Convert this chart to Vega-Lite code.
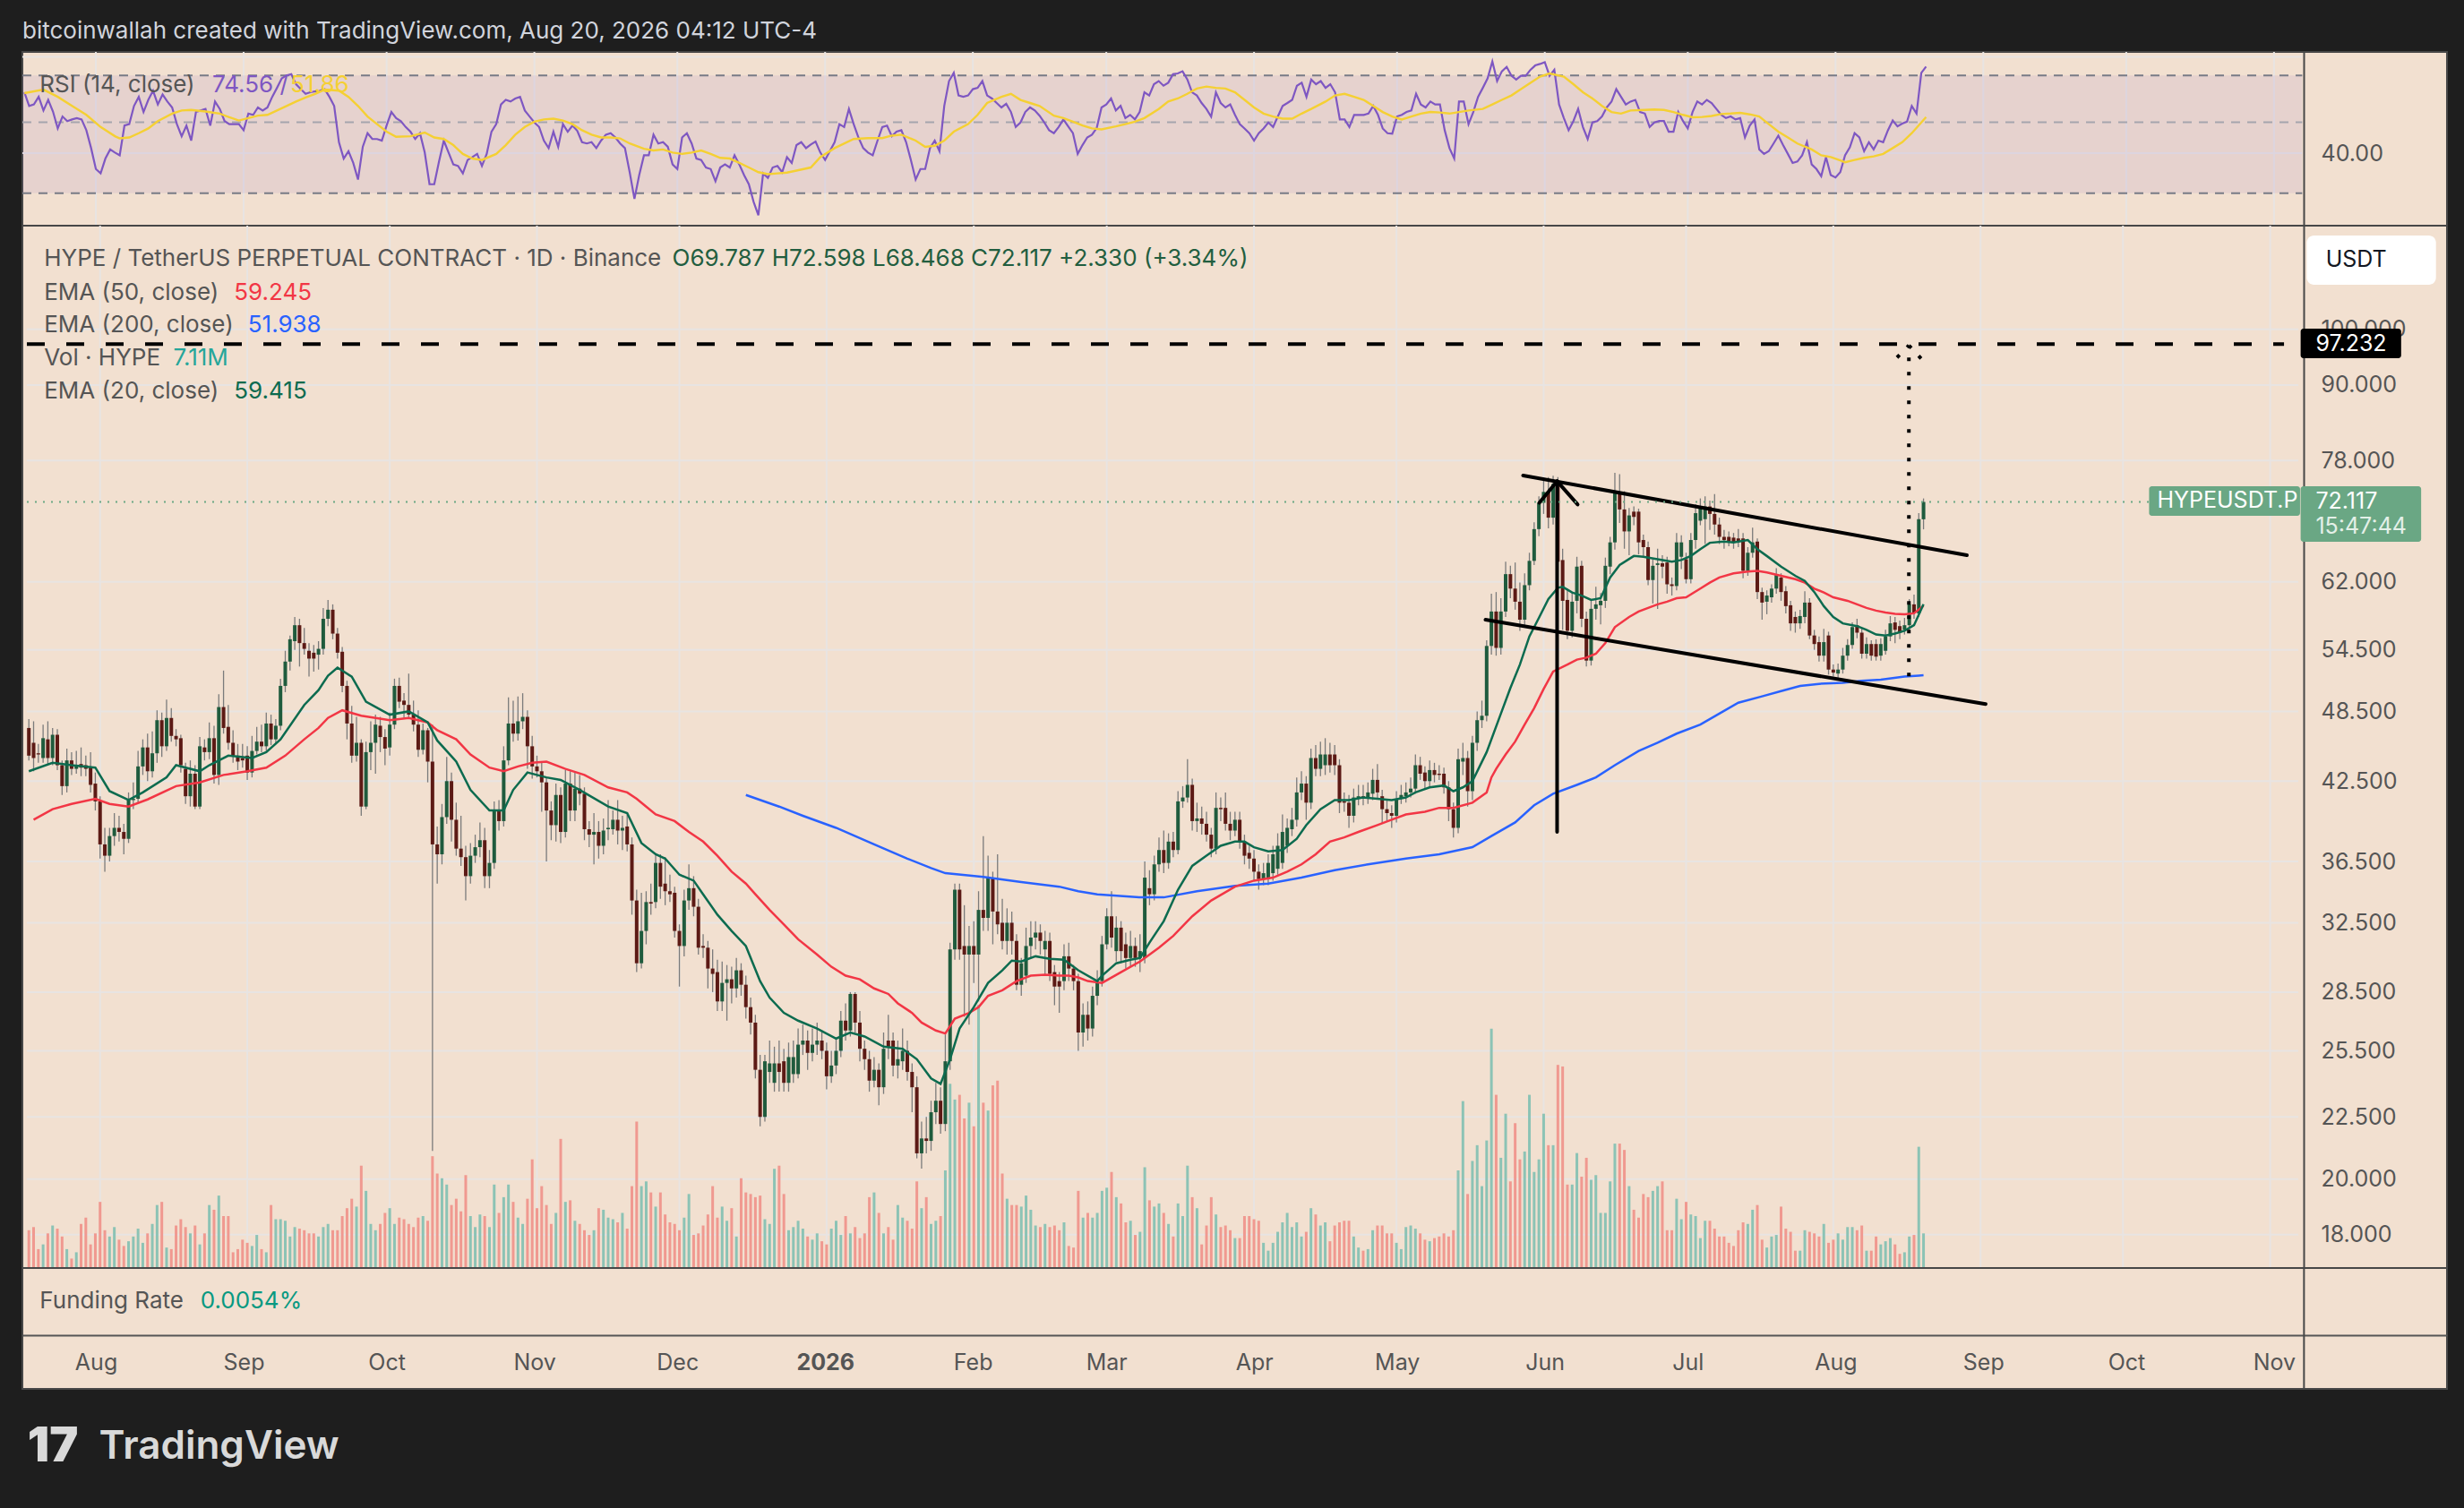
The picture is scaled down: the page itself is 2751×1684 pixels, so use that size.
{
"$schema":"https://vega.github.io/schema/vega-lite/v6.json",
"background":"#1e1e1e",
"padding":{"left":21,"top":20,"right":23,"bottom":50},
"autosize":{"type":"pad"},
"config":{"font":"Inter","view":{"stroke":"#474747","strokeWidth":2,"fill":"#f2e0d0"},"concat":{"spacing":0}},
"spacing":0,
"bounds":"flush",
"datasets":{
"months":[{"d":"2025-08-01"},{"d":"2025-09-01"},{"d":"2025-10-01"},{"d":"2025-11-01"},{"d":"2025-12-01"},{"d":"2026-01-01"},{"d":"2026-02-01"},{"d":"2026-03-01"},{"d":"2026-04-01"},{"d":"2026-05-01"},{"d":"2026-06-01"},{"d":"2026-07-01"},{"d":"2026-08-01"},{"d":"2026-09-01"},{"d":"2026-10-01"},{"d":"2026-11-01"}],
"levels":[{"g":18},{"g":20},{"g":22.5},{"g":25.5},{"g":28.5},{"g":32.5},{"g":36.5},{"g":42.5},{"g":48.5},{"g":54.5},{"g":62},{"g":78},{"g":90},{"g":100}],
"k":[
{"d":"2025-07-17","o":47.0,"h":47.8,"l":44.2,"c":44.6,"v":24,"r":62.0,"m":61.6,"e20":43.3},
{"d":"2025-07-18","o":45.7,"h":47.6,"l":43.3,"c":44.4,"v":26,"r":56.2,"e50":39.5},
{"d":"2025-07-19","o":44.8,"h":45.6,"l":44.0,"c":44.7,"v":12,"r":56.8},
{"d":"2025-07-20","o":44.4,"h":47.3,"l":44.0,"c":46.1,"v":15,"r":60.0},
{"d":"2025-07-21","o":46.0,"h":47.6,"l":43.9,"c":44.4,"v":22,"r":54.4,"m":63.2},
{"d":"2025-07-22","o":44.4,"h":47.0,"l":43.8,"c":46.4,"v":27,"r":58.7,"e20":44.0,"e50":40.3},
{"d":"2025-07-23","o":46.4,"h":46.9,"l":43.4,"c":43.8,"v":25,"r":54.0},
{"d":"2025-07-24","o":43.8,"h":44.2,"l":41.4,"c":42.1,"v":20,"r":47.8,"m":60.0},
{"d":"2025-07-25","o":42.1,"h":45.2,"l":41.6,"c":44.2,"v":12,"r":52.1},
{"d":"2025-07-26","o":44.2,"h":44.9,"l":43.0,"c":43.5,"v":6,"r":50.4,"e20":43.8,"e50":40.7},
{"d":"2025-07-27","o":43.5,"h":45.0,"l":43.1,"c":43.8,"v":10,"r":51.0,"m":56.2},
{"d":"2025-07-28","o":43.9,"h":45.3,"l":42.9,"c":43.6,"v":28,"r":51.5},
{"d":"2025-07-29","o":43.8,"h":44.6,"l":42.9,"c":43.5,"v":32,"r":51.0},
{"d":"2025-07-30","o":43.6,"h":44.9,"l":41.6,"c":42.2,"v":15,"r":47.2,"m":52.7},
{"d":"2025-07-31","o":42.3,"h":43.2,"l":40.2,"c":40.9,"v":22,"r":41.5,"e20":43.6,"e50":41.1},
{"d":"2025-08-01","o":40.9,"h":41.3,"l":36.7,"c":37.7,"v":42,"r":35.7},
{"d":"2025-08-02","o":37.7,"h":38.9,"l":35.8,"c":36.9,"v":24,"r":34.6,"m":48.3},
{"d":"2025-08-03","o":36.9,"h":38.9,"l":36.5,"c":38.3,"v":20,"r":38.5,"e20":41.7,"e50":40.7},
{"d":"2025-08-04","o":38.3,"h":40.0,"l":37.6,"c":38.9,"v":26,"r":41.1},
{"d":"2025-08-05","o":38.9,"h":39.8,"l":37.9,"c":38.6,"v":18,"r":40.2,"m":45.2},
{"d":"2025-08-06","o":38.6,"h":39.2,"l":37.0,"c":38.1,"v":14,"r":39.4,"m":44.5},
{"d":"2025-08-07","o":38.1,"h":41.6,"l":37.8,"c":41.0,"v":17,"r":48.8,"e20":41.0,"e50":40.5},
{"d":"2025-08-08","o":41.0,"h":42.4,"l":40.3,"c":41.1,"v":20,"r":49.3,"m":44.8},
{"d":"2025-08-09","o":41.1,"h":45.0,"l":40.8,"c":43.7,"v":25,"r":56.2},
{"d":"2025-08-10","o":43.7,"h":46.0,"l":43.0,"c":45.3,"v":16,"r":60.0,"m":46.2,"e20":41.6},
{"d":"2025-08-11","o":45.3,"h":46.5,"l":42.5,"c":43.3,"v":22,"r":53.8,"e50":41.05},
{"d":"2025-08-12","o":43.3,"h":46.7,"l":42.8,"c":44.8,"v":28,"r":58.7,"m":47.8},
{"d":"2025-08-13","o":44.8,"h":48.6,"l":44.0,"c":47.7,"v":40,"r":62.7},
{"d":"2025-08-14","o":47.7,"h":48.4,"l":44.5,"c":45.4,"v":42,"r":56.8,"m":50.4},
{"d":"2025-08-15","o":45.4,"h":49.6,"l":45.0,"c":47.9,"v":13,"r":61.0,"e20":42.8},
{"d":"2025-08-16","o":47.9,"h":48.8,"l":45.8,"c":46.3,"v":12,"r":58.0},
{"d":"2025-08-17","o":46.3,"h":46.9,"l":45.4,"c":46.0,"v":27,"r":55.6,"m":53.2,"e20":43.8,"e50":42.1},
{"d":"2025-08-18","o":46.1,"h":46.4,"l":43.2,"c":43.8,"v":31,"r":49.3},
{"d":"2025-08-19","o":43.5,"h":44.0,"l":40.7,"c":41.3,"v":26,"r":45.2,"m":54.4},
{"d":"2025-08-20","o":41.3,"h":44.2,"l":40.5,"c":43.1,"v":22,"r":48.8},
{"d":"2025-08-21","o":43.1,"h":43.8,"l":40.3,"c":40.5,"v":27,"r":43.8,"m":54.6},
{"d":"2025-08-22","o":40.5,"h":46.2,"l":40.3,"c":45.4,"v":15,"r":53.8,"e20":43.3,"e50":42.4},
{"d":"2025-08-23","o":45.3,"h":46.0,"l":44.2,"c":44.9,"v":22,"r":54.4},
{"d":"2025-08-24","o":44.9,"h":47.5,"l":44.3,"c":46.1,"v":40,"r":55.0,"m":54.0,"e20":43.8},
{"d":"2025-08-25","o":46.1,"h":47.2,"l":42.3,"c":43.0,"v":37,"r":48.8},
{"d":"2025-08-26","o":43.0,"h":50.1,"l":42.2,"c":48.9,"v":46,"r":58.0},
{"d":"2025-08-27","o":48.9,"h":52.4,"l":46.5,"c":47.0,"v":33,"r":55.0,"m":53.2,"e50":43.0},
{"d":"2025-08-28","o":47.1,"h":49.1,"l":45.1,"c":45.7,"v":33,"r":50.4,"e20":44.6},
{"d":"2025-08-29","o":45.7,"h":46.8,"l":44.0,"c":44.6,"v":10,"r":49.3,"m":51.8},
{"d":"2025-08-30","o":44.6,"h":45.6,"l":43.4,"c":44.1,"v":12,"r":49.3},
{"d":"2025-08-31","o":44.4,"h":45.6,"l":43.6,"c":44.2,"v":18,"r":49.3,"m":50.6},
{"d":"2025-09-01","o":44.6,"h":45.4,"l":42.6,"c":43.2,"v":16,"r":47.2,"e50":43.3},
{"d":"2025-09-02","o":43.2,"h":46.3,"l":42.8,"c":45.0,"v":14,"r":53.2,"m":51.5,"e20":44.4},
{"d":"2025-09-03","o":45.0,"h":47.1,"l":44.7,"c":45.8,"v":21,"r":52.7},
{"d":"2025-09-04","o":45.8,"h":47.3,"l":44.9,"c":45.4,"v":12,"r":55.6,"m":52.4},
{"d":"2025-09-05","o":45.4,"h":48.4,"l":45.0,"c":47.4,"v":10,"r":54.4,"e20":44.9,"e50":43.6},
{"d":"2025-09-06","o":47.4,"h":48.2,"l":45.5,"c":46.0,"v":40,"r":55.6,"m":52.7},
{"d":"2025-09-07","o":46.0,"h":47.8,"l":45.6,"c":47.2,"v":31,"r":60.0},
{"d":"2025-09-08","o":47.2,"h":51.6,"l":46.8,"c":50.9,"v":31,"r":64.0,"m":54.4,"e20":46.0},
{"d":"2025-09-09","o":50.9,"h":54.4,"l":50.3,"c":53.3,"v":30,"r":68.5,"e50":44.6},
{"d":"2025-09-10","o":53.3,"h":56.0,"l":52.4,"c":55.6,"v":20,"r":70.0,"m":56.2},
{"d":"2025-09-11","o":55.4,"h":58.0,"l":54.5,"c":57.1,"v":26,"r":70.6},
{"d":"2025-09-12","o":57.1,"h":57.8,"l":52.8,"c":55.2,"v":25,"r":65.7,"m":58.0},
{"d":"2025-09-13","o":55.2,"h":56.8,"l":54.0,"c":54.6,"v":24,"r":63.4,"e20":49.1,"e50":46.0},
{"d":"2025-09-14","o":54.4,"h":55.2,"l":51.8,"c":53.6,"v":22,"r":61.3,"m":59.7},
{"d":"2025-09-15","o":54.2,"h":55.0,"l":52.3,"c":53.6,"v":22,"r":62.0},
{"d":"2025-09-16","o":54.0,"h":55.4,"l":52.5,"c":54.6,"v":20,"r":62.4,"m":61.3,"e20":50.5,"e50":47.0},
{"d":"2025-09-17","o":54.6,"h":59.0,"l":54.0,"c":57.8,"v":26,"r":62.7},
{"d":"2025-09-18","o":57.8,"h":59.9,"l":57.0,"c":58.8,"v":28,"r":63.4,"m":63.2,"e20":51.9,"e50":47.9},
{"d":"2025-09-19","o":58.8,"h":59.4,"l":55.6,"c":56.2,"v":24,"r":60.0},
{"d":"2025-09-20","o":56.2,"h":56.8,"l":53.6,"c":54.2,"v":24,"r":56.2,"e20":52.7},
{"d":"2025-09-21","o":54.3,"h":54.8,"l":50.3,"c":50.9,"v":33,"r":43.3,"m":62.7,"e50":48.6},
{"d":"2025-09-22","o":50.9,"h":51.4,"l":46.0,"c":47.4,"v":38,"r":38.5},
{"d":"2025-09-23","o":47.4,"h":49.0,"l":44.0,"c":44.6,"v":44,"r":40.6,"m":60.0,"e20":51.8},
{"d":"2025-09-24","o":44.6,"h":48.0,"l":44.1,"c":45.7,"v":39,"r":37.3},
{"d":"2025-09-25","o":45.7,"h":46.0,"l":39.8,"c":40.5,"v":65,"r":33.1,"m":56.2,"e50":48.1},
{"d":"2025-09-26","o":40.5,"h":45.8,"l":40.3,"c":44.9,"v":49,"r":41.9,"e20":49.4},
{"d":"2025-09-27","o":44.9,"h":47.6,"l":43.4,"c":45.7,"v":28,"r":46.2,"m":52.1},
{"d":"2025-09-28","o":45.7,"h":48.2,"l":43.1,"c":47.3,"v":24,"r":44.3},
{"d":"2025-09-29","o":47.2,"h":48.0,"l":44.9,"c":46.2,"v":28,"r":44.3,"m":49.3},
{"d":"2025-09-30","o":46.2,"h":46.9,"l":43.8,"c":45.2,"v":35,"r":43.8},
{"d":"2025-10-01","o":45.3,"h":48.4,"l":44.6,"c":47.3,"v":38,"r":48.8,"m":46.7,"e20":48.2,"e50":47.7},
{"d":"2025-10-02","o":47.3,"h":51.6,"l":46.9,"c":50.9,"v":28,"r":53.8},
{"d":"2025-10-03","o":50.9,"h":51.7,"l":48.8,"c":49.4,"v":32,"r":51.5,"m":45.0},
{"d":"2025-10-04","o":49.5,"h":50.2,"l":47.9,"c":49.1,"v":31,"r":50.4},
{"d":"2025-10-05","o":49.1,"h":52.1,"l":47.9,"c":48.2,"v":28,"r":48.3,"e20":48.5,"e50":47.9},
{"d":"2025-10-06","o":48.2,"h":49.5,"l":46.7,"c":47.3,"v":26,"r":46.7,"m":45.2},
{"d":"2025-10-07","o":47.3,"h":48.6,"l":44.5,"c":45.1,"v":32,"r":44.3},
{"d":"2025-10-08","o":45.1,"h":47.4,"l":44.7,"c":46.8,"v":33,"r":46.2},
{"d":"2025-10-09","o":46.8,"h":47.0,"l":42.4,"c":44.1,"v":30,"r":40.2,"m":46.4,"e20":47.5,"e50":47.5},
{"d":"2025-10-10","o":44.1,"h":47.3,"l":21.1,"c":37.7,"v":71,"r":32.0},
{"d":"2025-10-11","o":37.7,"h":39.0,"l":35.0,"c":37.0,"v":60,"r":32.0,"m":44.8,"e20":45.9,"e50":46.8},
{"d":"2025-10-12","o":37.0,"h":40.7,"l":36.3,"c":39.7,"v":57,"r":37.7},
{"d":"2025-10-13","o":39.7,"h":44.5,"l":39.2,"c":42.5,"v":53,"r":43.8,"m":44.3},
{"d":"2025-10-14","o":42.5,"h":43.2,"l":37.9,"c":39.5,"v":40,"r":40.2},
{"d":"2025-10-15","o":39.5,"h":40.8,"l":36.9,"c":37.4,"v":44,"r":36.9,"m":42.4,"e20":44.1,"e50":46.0},
{"d":"2025-10-16","o":37.4,"h":39.8,"l":36.2,"c":36.8,"v":36,"r":36.5},
{"d":"2025-10-17","o":36.8,"h":37.6,"l":33.9,"c":35.5,"v":59,"r":34.6,"m":39.8},
{"d":"2025-10-18","o":35.5,"h":37.8,"l":35.0,"c":36.9,"v":33,"r":38.1,"e20":41.8,"e50":44.7},
{"d":"2025-10-19","o":36.9,"h":38.4,"l":36.4,"c":37.5,"v":26,"r":38.9,"m":38.5},
{"d":"2025-10-20","o":37.5,"h":39.3,"l":36.8,"c":38.0,"v":34,"r":39.8},
{"d":"2025-10-21","o":38.0,"h":38.9,"l":34.7,"c":35.5,"v":33,"r":36.5,"m":38.1},
{"d":"2025-10-22","o":35.5,"h":37.3,"l":34.7,"c":36.4,"v":26,"r":39.8,"e20":40.2,"e50":43.6},
{"d":"2025-10-23","o":36.4,"h":40.9,"l":36.0,"c":40.2,"v":53,"r":46.7},
{"d":"2025-10-24","o":40.2,"h":41.0,"l":38.7,"c":39.4,"v":35,"r":49.3,"m":39.8},
{"d":"2025-10-25","o":39.4,"h":45.4,"l":39.0,"c":44.2,"v":45,"r":56.8,"e20":40.2,"e50":43.3},
{"d":"2025-10-26","o":44.2,"h":49.8,"l":43.8,"c":47.4,"v":53,"r":58.7,"m":42.4},
{"d":"2025-10-27","o":47.4,"h":49.5,"l":45.8,"c":46.5,"v":42,"r":58.0,"e20":41.8},
{"d":"2025-10-28","o":46.5,"h":49.9,"l":45.9,"c":47.6,"v":32,"r":59.3,"m":45.7,"e50":43.7},
{"d":"2025-10-29","o":47.6,"h":50.2,"l":46.9,"c":48.0,"v":28,"r":60.0},
{"d":"2025-10-30","o":48.0,"h":48.6,"l":43.5,"c":45.4,"v":44,"r":54.4,"m":48.3,"e20":43.2},
{"d":"2025-10-31","o":45.4,"h":46.3,"l":42.7,"c":43.7,"v":69,"r":52.1,"e50":44.0},
{"d":"2025-11-01","o":43.7,"h":44.6,"l":42.8,"c":43.3,"v":38,"r":49.9,"m":50.2},
{"d":"2025-11-02","o":43.3,"h":44.1,"l":40.1,"c":42.4,"v":52,"r":48.3},
{"d":"2025-11-03","o":42.4,"h":42.8,"l":36.5,"c":40.2,"v":40,"r":43.8,"m":51.0,"e20":42.8,"e50":44.1},
{"d":"2025-11-04","o":40.2,"h":40.9,"l":38.0,"c":39.1,"v":28,"r":41.5},
{"d":"2025-11-05","o":39.1,"h":42.3,"l":37.9,"c":41.4,"v":35,"r":46.7,"m":51.3},
{"d":"2025-11-06","o":41.4,"h":42.0,"l":37.8,"c":38.6,"v":82,"r":41.9,"e20":42.6},
{"d":"2025-11-07","o":38.6,"h":43.4,"l":38.2,"c":42.3,"v":42,"r":49.3,"m":50.6,"e50":43.5},
{"d":"2025-11-08","o":42.3,"h":43.3,"l":39.4,"c":40.2,"v":43,"r":46.7},
{"d":"2025-11-09","o":40.2,"h":43.2,"l":39.4,"c":41.9,"v":30,"r":48.8,"m":49.3},
{"d":"2025-11-10","o":41.9,"h":43.0,"l":40.6,"c":41.5,"v":28,"r":47.0,"e20":41.8},
{"d":"2025-11-11","o":41.5,"h":42.0,"l":38.0,"c":38.8,"v":24,"r":43.3,"m":47.2,"e50":43.0},
{"d":"2025-11-12","o":38.8,"h":39.4,"l":37.5,"c":38.4,"v":21,"r":42.9},
{"d":"2025-11-13","o":38.4,"h":40.0,"l":36.3,"c":38.6,"v":24,"r":43.3,"m":45.7},
{"d":"2025-11-14","o":38.6,"h":39.4,"l":36.7,"c":37.6,"v":38,"r":41.5},
{"d":"2025-11-15","o":37.6,"h":39.6,"l":37.0,"c":38.7,"v":37,"r":43.8,"m":44.8},
{"d":"2025-11-16","o":38.8,"h":41.0,"l":38.0,"c":38.9,"v":32,"r":45.7,"e20":40.5,"e50":42.0},
{"d":"2025-11-17","o":38.8,"h":40.2,"l":38.4,"c":39.5,"v":31,"r":46.2,"m":44.8},
{"d":"2025-11-18","o":39.5,"h":41.0,"l":37.7,"c":38.7,"v":29,"r":44.8},
{"d":"2025-11-19","o":38.7,"h":39.8,"l":37.3,"c":38.9,"v":35,"r":42.9,"m":44.5},
{"d":"2025-11-20","o":39.0,"h":39.9,"l":37.2,"c":37.7,"v":25,"r":41.5,"e20":40.0,"e50":41.6},
{"d":"2025-11-21","o":37.7,"h":38.2,"l":33.0,"c":33.9,"v":52,"r":34.9,"m":42.9},
{"d":"2025-11-22","o":33.9,"h":34.6,"l":29.6,"c":30.1,"v":93,"r":28.8,"e50":41.1},
{"d":"2025-11-23","o":30.1,"h":34.4,"l":29.8,"c":32.0,"v":52,"r":34.2,"e20":37.8},
{"d":"2025-11-24","o":32.0,"h":34.5,"l":31.2,"c":33.8,"v":55,"r":39.4,"m":41.3,"e50":40.5},
{"d":"2025-11-25","o":33.8,"h":35.0,"l":33.0,"c":33.7,"v":48,"r":39.4},
{"d":"2025-11-26","o":33.8,"h":37.0,"l":33.4,"c":36.4,"v":39,"r":45.7,"m":40.8,"e20":37.0,"e50":39.9},
{"d":"2025-11-27","o":36.4,"h":37.0,"l":34.0,"c":34.8,"v":48,"r":42.9},
{"d":"2025-11-28","o":35.0,"h":36.8,"l":33.6,"c":34.5,"v":34,"r":43.3,"m":41.1,"e20":36.7},
{"d":"2025-11-29","o":34.5,"h":35.6,"l":33.8,"c":34.3,"v":29,"r":41.9},
{"d":"2025-11-30","o":34.4,"h":34.8,"l":31.6,"c":32.0,"v":28,"r":36.9,"m":40.2,"e50":39.4},
{"d":"2025-12-01","o":32.0,"h":32.4,"l":28.8,"c":31.1,"v":24,"r":35.7,"e20":35.6},
{"d":"2025-12-02","o":31.1,"h":34.6,"l":30.5,"c":33.9,"v":32,"r":44.8,"m":39.8},
{"d":"2025-12-03","o":33.9,"h":36.3,"l":33.3,"c":34.7,"v":47,"r":46.2,"e50":38.6},
{"d":"2025-12-04","o":34.7,"h":35.5,"l":32.9,"c":33.5,"v":21,"r":42.9,"m":40.2,"e20":35.2},
{"d":"2025-12-05","o":33.5,"h":34.0,"l":30.6,"c":31.0,"v":22,"r":38.5},
{"d":"2025-12-06","o":31.1,"h":31.8,"l":30.4,"c":31.0,"v":27,"r":38.1,"m":40.8,"e20":34.3,"e50":37.9},
{"d":"2025-12-07","o":31.0,"h":31.4,"l":28.7,"c":29.8,"v":34,"r":36.1},
{"d":"2025-12-08","o":29.8,"h":30.9,"l":28.5,"c":29.5,"v":52,"r":35.7,"m":39.8},
{"d":"2025-12-09","o":29.6,"h":30.3,"l":27.5,"c":28.0,"v":32,"r":32.7,"e20":33.0,"e50":36.9},
{"d":"2025-12-10","o":28.0,"h":30.2,"l":27.5,"c":29.0,"v":39,"r":36.1,"m":38.7},
{"d":"2025-12-11","o":29.0,"h":30.0,"l":27.0,"c":29.2,"v":30,"r":36.9},
{"d":"2025-12-12","o":29.2,"h":29.9,"l":27.9,"c":28.7,"v":38,"r":36.1,"m":38.5,"e20":32.0,"e50":35.8},
{"d":"2025-12-13","o":28.7,"h":30.4,"l":28.2,"c":29.7,"v":20,"r":39.4},
{"d":"2025-12-14","o":29.7,"h":30.1,"l":28.3,"c":28.9,"v":57,"r":36.9,"m":37.3},
{"d":"2025-12-15","o":28.9,"h":29.4,"l":27.1,"c":27.7,"v":48,"r":34.2,"e20":31.1,"e50":35.0,"e200":41.4},
{"d":"2025-12-16","o":27.7,"h":28.2,"l":26.3,"c":26.9,"v":47,"r":32.0,"m":36.1},
{"d":"2025-12-17","o":26.9,"h":27.3,"l":24.2,"c":24.6,"v":45,"r":28.2,"e50":34.3},
{"d":"2025-12-18","o":24.6,"h":25.3,"l":22.1,"c":22.5,"v":46,"r":25.6,"m":34.9,"e20":29.1},
{"d":"2025-12-19","o":22.5,"h":25.3,"l":22.3,"c":25.0,"v":31,"r":34.6},
{"d":"2025-12-20","o":24.5,"h":26.0,"l":24.0,"c":24.9,"v":28,"r":33.5,"m":34.4,"e20":28.2,"e50":33.3},
{"d":"2025-12-21","o":24.0,"h":25.7,"l":23.6,"c":24.9,"v":63,"r":36.1},
{"d":"2025-12-22","o":24.9,"h":26.0,"l":23.6,"c":24.5,"v":65,"r":36.5,"m":34.6,"e200":40.5},
{"d":"2025-12-23","o":25.0,"h":25.6,"l":23.6,"c":24.0,"v":47,"r":34.9,"e20":27.4,"e50":32.4},
{"d":"2025-12-24","o":24.0,"h":25.9,"l":23.6,"c":25.2,"v":24,"r":38.9,"m":34.8},
{"d":"2025-12-25","o":24.4,"h":26.0,"l":24.0,"c":25.2,"v":26,"r":37.3},
{"d":"2025-12-26","o":24.4,"h":26.6,"l":24.2,"c":25.8,"v":30,"r":42.4,"m":35.3,"e20":27.0,"e50":31.5},
{"d":"2025-12-27","o":25.8,"h":26.8,"l":25.3,"c":26.0,"v":25,"r":43.3,"e200":39.8},
{"d":"2025-12-28","o":26.0,"h":26.5,"l":24.6,"c":25.4,"v":20,"r":41.5},
{"d":"2025-12-29","o":25.4,"h":26.6,"l":25.0,"c":25.8,"v":18,"r":42.6,"m":36.1},
{"d":"2025-12-30","o":25.8,"h":26.9,"l":25.3,"c":26.0,"v":22,"r":43.5,"e20":26.6,"e50":30.6},
{"d":"2025-12-31","o":26.0,"h":26.5,"l":25.1,"c":25.5,"v":17,"r":40.2,"m":38.9},
{"d":"2026-01-01","o":25.5,"h":25.9,"l":23.7,"c":24.3,"v":15,"r":38.1},
{"d":"2026-01-02","o":24.3,"h":25.5,"l":24.0,"c":24.8,"v":25,"r":40.6,"e50":29.9},
{"d":"2026-01-03","o":24.8,"h":26.1,"l":24.4,"c":25.5,"v":30,"r":43.3,"m":41.5,"e20":26.1,"e200":38.9},
{"d":"2026-01-04","o":25.5,"h":27.5,"l":25.2,"c":27.0,"v":21,"r":49.3},
{"d":"2026-01-05","o":27.0,"h":27.9,"l":26.0,"c":26.5,"v":33,"r":48.3,"e50":29.4},
{"d":"2026-01-06","o":26.5,"h":28.5,"l":26.2,"c":28.4,"v":22,"r":55.0,"e20":26.4},
{"d":"2026-01-07","o":28.4,"h":28.5,"l":26.4,"c":26.9,"v":26,"r":49.3,"m":44.3},
{"d":"2026-01-08","o":26.9,"h":27.5,"l":25.0,"c":25.6,"v":19,"r":44.8,"e50":29.2},
{"d":"2026-01-09","o":25.6,"h":26.0,"l":24.6,"c":25.1,"v":22,"r":41.5,"e20":26.2},
{"d":"2026-01-10","o":25.1,"h":25.5,"l":23.6,"c":24.1,"v":45,"r":40.2,"m":44.6},
{"d":"2026-01-11","o":24.1,"h":25.2,"l":23.8,"c":24.6,"v":48,"r":39.4,"e50":28.7,"e200":37.7},
{"d":"2026-01-12","o":24.6,"h":24.9,"l":23.0,"c":23.8,"v":35,"r":43.8},
{"d":"2026-01-13","o":23.8,"h":26.4,"l":23.5,"c":25.6,"v":22,"r":48.3,"m":44.6,"e20":25.7},
{"d":"2026-01-14","o":26.0,"h":27.3,"l":25.1,"c":25.7,"v":26,"r":48.8,"e50":28.4},
{"d":"2026-01-15","o":26.0,"h":26.4,"l":24.3,"c":24.8,"v":18,"r":45.2,"m":45.4},
{"d":"2026-01-16","o":24.8,"h":26.0,"l":24.2,"c":25.1,"v":40,"r":46.7,"e50":27.9},
{"d":"2026-01-17","o":25.0,"h":26.6,"l":24.6,"c":25.5,"v":32,"r":47.2,"m":45.7,"e20":25.6},
{"d":"2026-01-18","o":25.5,"h":26.0,"l":24.1,"c":24.5,"v":30,"r":43.3,"e200":36.7},
{"d":"2026-01-19","o":24.5,"h":24.9,"l":22.7,"c":23.8,"v":25,"r":38.1,"e50":27.4},
{"d":"2026-01-20","o":23.8,"h":24.3,"l":20.8,"c":21.0,"v":55,"r":33.1,"m":43.8,"e20":25.1},
{"d":"2026-01-21","o":21.0,"h":22.3,"l":20.4,"c":21.6,"v":38,"r":35.7,"e50":26.9},
{"d":"2026-01-22","o":21.6,"h":22.5,"l":21.0,"c":21.5,"v":45,"r":35.7,"m":41.9},
{"d":"2026-01-23","o":21.5,"h":23.2,"l":21.1,"c":22.7,"v":28,"r":41.5,"e20":24.2,"e200":36.05},
{"d":"2026-01-24","o":22.7,"h":24.0,"l":22.2,"c":23.2,"v":30,"r":43.8,"m":42.2,"e50":26.5},
{"d":"2026-01-25","o":23.2,"h":23.8,"l":21.8,"c":22.2,"v":33,"r":40.6,"e20":23.95},
{"d":"2026-01-26","o":22.2,"h":26.3,"l":21.9,"c":25.0,"v":62,"r":56.2,"m":43.8,"e50":26.35,"e200":35.7},
{"d":"2026-01-27","o":25.0,"h":31.3,"l":24.6,"c":30.9,"v":117,"r":67.2,"e20":25.1},
{"d":"2026-01-28","o":30.9,"h":35.0,"l":30.3,"c":34.6,"v":107,"r":71.3,"m":46.7,"e50":27.1},
{"d":"2026-01-29","o":34.6,"h":35.0,"l":30.3,"c":30.9,"v":110,"r":60.6,"e20":26.6},
{"d":"2026-01-30","o":31.1,"h":33.6,"l":27.2,"c":30.6,"v":95,"r":60.0},
{"d":"2026-01-31","o":30.6,"h":32.3,"l":26.8,"c":31.1,"v":105,"r":60.6,"m":49.3,"e50":27.4},
{"d":"2026-02-01","o":31.1,"h":32.6,"l":29.0,"c":30.6,"v":90,"r":63.4,"e20":27.7},
{"d":"2026-02-02","o":30.6,"h":34.5,"l":28.0,"c":33.3,"v":167,"r":64.0,"m":52.7,"e50":27.7},
{"d":"2026-02-03","o":33.3,"h":38.3,"l":32.0,"c":32.8,"v":105,"r":67.2,"e200":35.45},
{"d":"2026-02-04","o":32.8,"h":36.9,"l":32.0,"c":35.4,"v":100,"r":60.6,"m":57.4,"e20":29.0,"e50":28.3},
{"d":"2026-02-05","o":35.4,"h":35.8,"l":31.2,"c":33.2,"v":116,"r":59.3},
{"d":"2026-02-06","o":33.2,"h":37.0,"l":31.8,"c":32.4,"v":119,"r":57.4},
{"d":"2026-02-07","o":32.5,"h":34.0,"l":30.9,"c":31.4,"v":60,"r":55.6,"m":60.0,"e20":29.7,"e50":28.6},
{"d":"2026-02-08","o":31.4,"h":33.4,"l":30.6,"c":32.5,"v":44,"r":57.1},
{"d":"2026-02-09","o":32.5,"h":33.2,"l":30.6,"c":31.4,"v":40,"r":53.8,"m":61.3,"e20":30.25},
{"d":"2026-02-10","o":31.4,"h":31.8,"l":28.6,"c":28.9,"v":40,"r":48.3,"e50":29.1},
{"d":"2026-02-11","o":28.9,"h":30.4,"l":28.3,"c":30.1,"v":39,"r":49.9,"m":58.7,"e20":30.2,"e200":35.1},
{"d":"2026-02-12","o":29.4,"h":32.2,"l":29.0,"c":31.1,"v":46,"r":53.8},
{"d":"2026-02-13","o":31.1,"h":32.6,"l":30.4,"c":31.6,"v":37,"r":55.6,"m":57.4,"e50":29.4},
{"d":"2026-02-14","o":31.6,"h":32.6,"l":30.9,"c":31.9,"v":27,"r":54.4,"e20":30.5},
{"d":"2026-02-15","o":31.9,"h":32.4,"l":30.6,"c":31.4,"v":26,"r":52.4,"m":56.2},
{"d":"2026-02-16","o":30.9,"h":32.0,"l":29.4,"c":31.4,"v":28,"r":49.9,"e50":29.45},
{"d":"2026-02-17","o":31.4,"h":31.9,"l":29.1,"c":29.5,"v":26,"r":47.2,"e20":30.35},
{"d":"2026-02-18","o":29.6,"h":30.0,"l":27.8,"c":28.8,"v":27,"r":46.2,"m":52.4},
{"d":"2026-02-19","o":29.1,"h":29.6,"l":27.4,"c":28.8,"v":24,"r":48.3,"e50":29.4,"e200":34.8},
{"d":"2026-02-20","o":29.1,"h":31.2,"l":28.6,"c":30.5,"v":29,"r":51.0,"m":51.5,"e20":30.3},
{"d":"2026-02-21","o":30.5,"h":31.3,"l":29.1,"c":29.8,"v":14,"r":48.5,"e50":29.4},
{"d":"2026-02-22","o":29.8,"h":30.0,"l":28.6,"c":29.1,"v":13,"r":46.2,"m":50.2},
{"d":"2026-02-23","o":29.1,"h":29.5,"l":25.5,"c":26.4,"v":49,"r":39.8,"e20":29.7,"e50":29.3,"e200":34.5},
{"d":"2026-02-24","o":26.4,"h":27.9,"l":25.7,"c":27.3,"v":32,"r":42.4,"m":48.8},
{"d":"2026-02-25","o":27.3,"h":28.0,"l":26.0,"c":26.6,"v":35,"r":44.8,"e50":29.1},
{"d":"2026-02-26","o":26.6,"h":28.8,"l":26.2,"c":28.3,"v":32,"r":45.7,"m":47.8},
{"d":"2026-02-27","o":28.3,"h":29.7,"l":27.8,"c":29.1,"v":35,"r":48.0,"e20":29.1,"e200":34.3},
{"d":"2026-02-28","o":29.1,"h":31.7,"l":28.8,"c":31.2,"v":49,"r":55.6,"m":47.5,"e20":29.4,"e50":29.0},
{"d":"2026-03-01","o":31.2,"h":33.4,"l":30.9,"c":32.9,"v":51,"r":56.8},
{"d":"2026-03-02","o":32.9,"h":34.5,"l":31.0,"c":31.6,"v":61,"r":59.3},
{"d":"2026-03-03","o":30.8,"h":32.9,"l":30.2,"c":32.2,"v":45,"r":54.4,"m":48.5,"e20":30.1},
{"d":"2026-03-04","o":32.2,"h":32.6,"l":30.1,"c":30.8,"v":41,"r":56.2,"e50":29.6},
{"d":"2026-03-05","o":31.2,"h":31.9,"l":29.8,"c":30.4,"v":29,"r":51.5,"m":49.3},
{"d":"2026-03-06","o":30.4,"h":32.0,"l":29.9,"c":31.1,"v":30,"r":52.7,"e20":30.3},
{"d":"2026-03-07","o":31.1,"h":31.6,"l":29.9,"c":30.4,"v":21,"r":51.0,"m":50.2},
{"d":"2026-03-08","o":30.4,"h":31.8,"l":29.6,"c":30.8,"v":23,"r":53.8,"e20":30.4,"e50":30.2,"e200":34.1},
{"d":"2026-03-09","o":30.4,"h":36.5,"l":30.1,"c":35.4,"v":64,"r":62.0,"m":51.5},
{"d":"2026-03-10","o":34.7,"h":35.9,"l":33.6,"c":34.3,"v":43,"r":60.6,"e20":31.3},
{"d":"2026-03-11","o":34.3,"h":36.9,"l":33.9,"c":36.3,"v":39,"r":65.7},
{"d":"2026-03-12","o":36.3,"h":38.2,"l":35.8,"c":37.3,"v":41,"r":67.2,"m":55.0,"e50":31.0},
{"d":"2026-03-13","o":37.3,"h":38.7,"l":35.7,"c":36.4,"v":35,"r":65.0,"e20":32.6,"e200":34.1},
{"d":"2026-03-14","o":36.4,"h":38.5,"l":36.0,"c":37.9,"v":28,"r":66.4,"m":58.0},
{"d":"2026-03-15","o":37.9,"h":38.6,"l":36.8,"c":37.3,"v":20,"r":70.6,"e50":31.7},
{"d":"2026-03-16","o":37.3,"h":41.7,"l":37.0,"c":40.9,"v":41,"r":71.0,"m":59.3,"e20":34.6},
{"d":"2026-03-17","o":40.9,"h":42.1,"l":40.4,"c":41.2,"v":33,"r":72.1},
{"d":"2026-03-18","o":41.2,"h":44.3,"l":40.8,"c":42.2,"v":65,"r":68.0,"m":61.3},
{"d":"2026-03-19","o":42.2,"h":42.7,"l":38.7,"c":39.4,"v":45,"r":62.0,"e20":36.2,"e50":32.9},
{"d":"2026-03-20","o":39.4,"h":40.8,"l":38.6,"c":39.6,"v":38,"r":60.6,"m":63.7,"e200":34.5},
{"d":"2026-03-21","o":39.6,"h":40.5,"l":38.4,"c":39.2,"v":15,"r":57.4},
{"d":"2026-03-22","o":39.2,"h":40.1,"l":37.9,"c":38.4,"v":27,"r":55.0,"m":64.6,"e20":36.9},
{"d":"2026-03-23","o":38.4,"h":38.9,"l":36.8,"c":37.4,"v":45,"r":52.0,"e50":33.9},
{"d":"2026-03-24","o":37.4,"h":41.6,"l":37.0,"c":40.4,"v":34,"r":62.0,"m":64.0},
{"d":"2026-03-25","o":40.4,"h":41.2,"l":39.4,"c":40.3,"v":26,"r":57.4,"e20":37.6},
{"d":"2026-03-26","o":40.4,"h":41.6,"l":38.7,"c":39.2,"v":27,"r":55.6,"m":63.7},
{"d":"2026-03-27","o":39.2,"h":40.1,"l":38.0,"c":38.7,"v":24,"r":56.8},
{"d":"2026-03-28","o":38.7,"h":40.1,"l":38.3,"c":39.5,"v":19,"r":52.7,"m":62.0,"e20":37.9,"e50":34.8,"e200":34.85},
{"d":"2026-03-29","o":39.5,"h":40.1,"l":37.4,"c":37.9,"v":19,"r":49.3},
{"d":"2026-03-30","o":37.9,"h":38.4,"l":36.3,"c":36.9,"v":33,"r":47.8,"m":58.7,"e20":37.9},
{"d":"2026-03-31","o":37.1,"h":37.6,"l":36.0,"c":36.7,"v":33,"r":46.2},
{"d":"2026-04-01","o":36.7,"h":37.3,"l":35.2,"c":35.8,"v":31,"r":43.8,"m":55.6,"e20":37.5,"e50":35.2},
{"d":"2026-04-02","o":35.8,"h":36.3,"l":34.6,"c":35.3,"v":30,"r":46.2},
{"d":"2026-04-03","o":35.3,"h":36.4,"l":34.9,"c":35.7,"v":16,"r":47.8,"m":53.2},
{"d":"2026-04-04","o":35.3,"h":37.0,"l":34.9,"c":36.4,"v":11,"r":49.9,"e20":37.2,"e200":35.0},
{"d":"2026-04-05","o":35.7,"h":37.6,"l":35.2,"c":37.0,"v":16,"r":48.3,"m":52.1,"e50":35.4},
{"d":"2026-04-06","o":36.0,"h":38.5,"l":35.6,"c":37.6,"v":23,"r":52.1},
{"d":"2026-04-07","o":36.4,"h":39.9,"l":36.0,"c":38.6,"v":29,"r":56.2,"m":51.3,"e20":37.3},
{"d":"2026-04-08","o":37.6,"h":39.6,"l":37.1,"c":38.9,"v":35,"r":57.4,"e50":35.8},
{"d":"2026-04-09","o":38.8,"h":40.4,"l":38.3,"c":39.5,"v":26,"r":58.7,"m":51.3},
{"d":"2026-04-10","o":39.5,"h":42.8,"l":39.0,"c":41.6,"v":29,"r":65.0,"e20":38.1},
{"d":"2026-04-11","o":41.6,"h":43.3,"l":41.0,"c":42.3,"v":20,"r":66.4,"m":53.2,"e50":36.3,"e200":35.4},
{"d":"2026-04-12","o":42.3,"h":42.9,"l":39.5,"c":40.8,"v":23,"r":60.0,"e20":39.1},
{"d":"2026-04-13","o":40.8,"h":45.2,"l":40.3,"c":44.4,"v":38,"r":67.9,"m":55.0},
{"d":"2026-04-14","o":44.4,"h":45.5,"l":42.9,"c":43.5,"v":34,"r":65.7,"e50":37.0},
{"d":"2026-04-15","o":43.5,"h":45.8,"l":42.9,"c":44.7,"v":27,"r":67.2,"e20":40.3},
{"d":"2026-04-16","o":43.8,"h":46.1,"l":43.0,"c":44.7,"v":29,"r":64.0,"m":58.0},
{"d":"2026-04-17","o":44.7,"h":45.7,"l":43.2,"c":43.8,"v":17,"r":65.7,"e50":37.9},
{"d":"2026-04-18","o":44.7,"h":45.5,"l":43.0,"c":43.8,"v":27,"r":62.0,"m":60.6,"e20":41.0,"e200":35.9},
{"d":"2026-04-19","o":43.8,"h":44.3,"l":40.0,"c":40.8,"v":29,"r":51.0},
{"d":"2026-04-20","o":40.9,"h":41.6,"l":40.1,"c":40.8,"v":30,"r":51.0,"m":61.3,"e50":38.2},
{"d":"2026-04-21","o":40.8,"h":41.4,"l":38.9,"c":39.8,"v":30,"r":48.3,"e20":41.0},
{"d":"2026-04-22","o":39.8,"h":41.9,"l":39.3,"c":41.2,"v":20,"r":52.7,"m":60.0},
{"d":"2026-04-23","o":41.1,"h":42.2,"l":40.6,"c":41.3,"v":13,"r":52.7,"e50":38.6},
{"d":"2026-04-24","o":41.3,"h":42.2,"l":40.6,"c":41.2,"v":11,"r":52.7,"m":58.7,"e20":41.2},
{"d":"2026-04-25","o":41.1,"h":42.4,"l":40.7,"c":41.6,"v":12,"r":53.2,"e200":36.3},
{"d":"2026-04-26","o":41.5,"h":43.5,"l":41.0,"c":42.6,"v":24,"r":56.2,"m":56.2},
{"d":"2026-04-27","o":42.6,"h":43.9,"l":41.1,"c":41.6,"v":27,"r":52.7,"e20":41.1,"e50":39.1},
{"d":"2026-04-28","o":41.3,"h":41.8,"l":39.2,"c":40.3,"v":27,"r":47.8,"m":53.8},
{"d":"2026-04-29","o":40.3,"h":41.0,"l":39.4,"c":40.0,"v":22,"r":46.2},
{"d":"2026-04-30","o":40.0,"h":40.6,"l":38.9,"c":39.8,"v":22,"r":46.0,"m":52.1,"e20":41.0,"e50":39.5},
{"d":"2026-05-01","o":39.8,"h":41.7,"l":39.3,"c":41.1,"v":16,"r":52.1},
{"d":"2026-05-02","o":41.1,"h":42.2,"l":40.7,"c":41.4,"v":12,"r":52.7,"m":51.0},
{"d":"2026-05-03","o":41.3,"h":42.4,"l":40.8,"c":41.6,"v":26,"r":53.8,"e20":41.2,"e50":39.9,"e200":36.7},
{"d":"2026-05-04","o":41.6,"h":42.8,"l":41.2,"c":41.9,"v":27,"r":54.4,"m":52.1},
{"d":"2026-05-05","o":41.9,"h":44.7,"l":41.5,"c":43.8,"v":25,"r":61.3,"e20":41.6},
{"d":"2026-05-06","o":43.8,"h":44.5,"l":42.6,"c":43.1,"v":22,"r":56.8,"m":53.2},
{"d":"2026-05-07","o":43.2,"h":43.7,"l":41.9,"c":42.5,"v":18,"r":55.6,"e50":40.1},
{"d":"2026-05-08","o":42.5,"h":44.2,"l":42.0,"c":43.4,"v":17,"r":58.0,"m":53.8,"e20":42.0},
{"d":"2026-05-09","o":43.4,"h":44.0,"l":42.4,"c":43.0,"v":19,"r":56.8},
{"d":"2026-05-10","o":43.1,"h":43.8,"l":42.6,"c":43.0,"v":20,"r":56.8,"m":53.6,"e50":40.4,"e200":37.0},
{"d":"2026-05-11","o":43.1,"h":43.6,"l":41.5,"c":42.0,"v":22,"r":47.2,"e20":42.15},
{"d":"2026-05-12","o":42.0,"h":42.5,"l":39.4,"c":40.3,"v":20,"r":41.5,"m":53.2},
{"d":"2026-05-13","o":40.3,"h":40.8,"l":38.2,"c":38.9,"v":24,"r":38.5,"e20":41.7,"e50":40.4},
{"d":"2026-05-14","o":38.9,"h":45.2,"l":38.5,"c":44.3,"v":62,"r":58.0,"m":53.8},
{"d":"2026-05-15","o":44.1,"h":45.7,"l":43.0,"c":44.4,"v":106,"r":58.0,"e20":42.0},
{"d":"2026-05-16","o":44.4,"h":45.0,"l":40.5,"c":41.7,"v":47,"r":49.3,"m":54.4},
{"d":"2026-05-17","o":41.7,"h":46.3,"l":41.0,"c":45.7,"v":68,"r":53.8,"e20":42.5,"e50":40.8,"e200":37.5},
{"d":"2026-05-18","o":45.7,"h":48.5,"l":45.0,"c":47.7,"v":78,"r":60.0},
{"d":"2026-05-19","o":47.7,"h":49.5,"l":47.0,"c":48.1,"v":52,"r":64.0,"m":55.0},
{"d":"2026-05-20","o":48.1,"h":55.5,"l":47.6,"c":54.9,"v":81,"r":68.5,"e20":44.9,"e50":41.6},
{"d":"2026-05-21","o":54.9,"h":60.6,"l":54.0,"c":58.6,"v":152,"r":77.4,"m":56.8,"e50":42.8,"e200":38.3},
{"d":"2026-05-22","o":58.6,"h":60.8,"l":53.9,"c":54.7,"v":110,"r":67.2,"e50":43.5},
{"d":"2026-05-23","o":54.7,"h":60.1,"l":54.0,"c":58.6,"v":70,"r":72.1,"m":58.7,"e20":48.3},
{"d":"2026-05-24","o":58.6,"h":64.4,"l":58.0,"c":62.9,"v":98,"r":74.4,"e50":44.7},
{"d":"2026-05-25","o":62.9,"h":63.9,"l":60.1,"c":61.2,"v":55,"r":69.8,"m":60.6,"e20":50.7},
{"d":"2026-05-26","o":61.2,"h":64.3,"l":58.8,"c":59.7,"v":92,"r":67.9,"e50":45.8,"e200":39.3},
{"d":"2026-05-27","o":59.7,"h":61.9,"l":56.5,"c":57.7,"v":69,"r":69.8,"m":63.4,"e20":53.0},
{"d":"2026-05-28","o":57.7,"h":63.0,"l":57.1,"c":61.6,"v":74,"r":69.8,"e50":47.3},
{"d":"2026-05-29","o":61.6,"h":65.5,"l":61.0,"c":64.5,"v":110,"r":72.9,"m":66.4,"e20":55.9},
{"d":"2026-05-30","o":64.5,"h":69.4,"l":64.0,"c":68.5,"v":61,"r":75.2,"e50":48.8,"e200":40.6},
{"d":"2026-05-31","o":68.5,"h":72.9,"l":67.6,"c":72.0,"v":69,"r":76.0,"m":69.4,"e20":57.9},
{"d":"2026-06-01","o":72.0,"h":75.5,"l":70.5,"c":73.5,"v":98,"r":77.0,"e50":50.6},
{"d":"2026-06-02","o":73.5,"h":75.6,"l":68.6,"c":70.0,"v":78,"r":69.8,"m":71.0,"e20":60.0},
{"d":"2026-06-03","o":70.0,"h":75.8,"l":69.1,"c":74.6,"v":78,"r":72.9,"e50":52.3,"e200":41.5},
{"d":"2026-06-04","o":74.6,"h":75.6,"l":62.5,"c":64.4,"v":129,"r":56.8,"e20":61.3},
{"d":"2026-06-05","o":64.6,"h":66.0,"l":56.6,"c":59.8,"v":128,"r":51.5,"m":69.4,"e20":61.4},
{"d":"2026-06-06","o":59.9,"h":61.2,"l":55.6,"c":56.5,"v":53,"r":47.2,"e50":53.0},
{"d":"2026-06-07","o":56.5,"h":60.8,"l":55.8,"c":59.7,"v":53,"r":50.4,"m":65.7,"e20":60.75},
{"d":"2026-06-08","o":59.8,"h":65.0,"l":58.4,"c":63.8,"v":73,"r":55.0,"e50":53.5,"e200":42.2},
{"d":"2026-06-09","o":63.9,"h":64.5,"l":56.9,"c":57.8,"v":58,"r":48.3,"m":62.0,"e20":60.4},
{"d":"2026-06-10","o":57.8,"h":58.6,"l":52.8,"c":53.4,"v":70,"r":44.3,"e50":53.7},
{"d":"2026-06-11","o":53.4,"h":59.8,"l":52.9,"c":58.9,"v":56,"r":49.9,"m":59.3,"e20":59.9},
{"d":"2026-06-12","o":58.9,"h":61.4,"l":57.7,"c":59.4,"v":59,"r":50.4,"e50":54.1,"e200":42.8},
{"d":"2026-06-13","o":59.3,"h":60.7,"l":57.2,"c":59.8,"v":35,"r":52.1,"m":56.2,"e20":60.1},
{"d":"2026-06-14","o":59.8,"h":64.9,"l":59.0,"c":63.9,"v":35,"r":55.6,"e50":55.2},
{"d":"2026-06-15","o":63.8,"h":67.5,"l":62.9,"c":66.8,"v":55,"r":58.0,"m":53.8,"e20":62.5},
{"d":"2026-06-16","o":66.8,"h":76.2,"l":65.9,"c":73.5,"v":79,"r":63.4,"e50":56.9,"e200":43.8},
{"d":"2026-06-17","o":73.5,"h":76.0,"l":69.3,"c":71.1,"v":79,"r":60.0,"m":53.2,"e20":64.0},
{"d":"2026-06-18","o":71.1,"h":73.6,"l":66.0,"c":68.2,"v":75,"r":56.8},
{"d":"2026-06-19","o":68.2,"h":71.3,"l":65.2,"c":70.3,"v":52,"r":58.0,"m":54.4,"e50":58.0},
{"d":"2026-06-20","o":70.8,"h":71.5,"l":69.0,"c":70.1,"v":37,"r":58.7,"e20":65.1},
{"d":"2026-06-21","o":70.8,"h":71.2,"l":65.3,"c":66.8,"v":32,"r":53.8,"e50":58.6,"e200":45.0},
{"d":"2026-06-22","o":67.1,"h":67.8,"l":64.9,"c":66.2,"v":47,"r":53.2,"m":54.6,"e20":65.0},
{"d":"2026-06-23","o":66.2,"h":66.9,"l":61.6,"c":62.2,"v":45,"r":48.3,"e50":59.0},
{"d":"2026-06-24","o":62.2,"h":64.7,"l":59.5,"c":63.9,"v":49,"r":49.9,"m":54.8},
{"d":"2026-06-25","o":64.0,"h":66.0,"l":58.9,"c":64.2,"v":52,"r":50.4,"e20":64.7,"e50":59.4,"e200":45.7},
{"d":"2026-06-26","o":64.2,"h":65.2,"l":62.4,"c":63.8,"v":55,"r":50.4,"m":54.6},
{"d":"2026-06-27","o":64.3,"h":65.0,"l":60.6,"c":61.7,"v":24,"r":46.7,"e50":59.7},
{"d":"2026-06-28","o":61.7,"h":62.5,"l":60.4,"c":61.5,"v":24,"r":46.7,"m":53.8,"e20":64.4},
{"d":"2026-06-29","o":61.5,"h":68.0,"l":61.0,"c":66.8,"v":44,"r":53.8,"e50":60.1,"e200":46.5},
{"d":"2026-06-30","o":65.0,"h":67.7,"l":63.5,"c":66.8,"v":31,"r":50.4,"m":52.7,"e20":64.6},
{"d":"2026-07-01","o":64.7,"h":65.5,"l":61.8,"c":62.3,"v":42,"r":47.8,"e50":60.2},
{"d":"2026-07-02","o":62.3,"h":68.0,"l":61.8,"c":67.1,"v":34,"r":53.8,"m":51.8,"e20":65.1},
{"d":"2026-07-03","o":67.1,"h":71.8,"l":66.0,"c":70.6,"v":33,"r":58.0},
{"d":"2026-07-04","o":69.6,"h":72.6,"l":69.0,"c":71.4,"v":19,"r":56.8,"m":51.9,"e20":65.95,"e50":61.2,"e200":47.3},
{"d":"2026-07-05","o":69.8,"h":72.9,"l":66.6,"c":71.5,"v":30,"r":58.7},
{"d":"2026-07-06","o":71.5,"h":72.3,"l":68.4,"c":70.5,"v":30,"r":57.4,"m":52.3,"e20":66.75,"e50":61.9},
{"d":"2026-07-07","o":70.5,"h":73.2,"l":67.8,"c":69.1,"v":25,"r":55.0},
{"d":"2026-07-08","o":69.1,"h":70.0,"l":66.6,"c":67.5,"v":20,"r":52.7,"m":53.0,"e50":62.5,"e200":48.3},
{"d":"2026-07-09","o":67.5,"h":68.4,"l":66.0,"c":67.1,"v":20,"r":51.5,"e20":66.9},
{"d":"2026-07-10","o":67.5,"h":68.2,"l":66.3,"c":66.9,"v":16,"r":52.1,"m":53.2},
{"d":"2026-07-11","o":67.4,"h":68.0,"l":66.0,"c":66.8,"v":14,"r":51.0,"e20":66.8,"e50":63.0},
{"d":"2026-07-12","o":67.3,"h":68.5,"l":66.2,"c":66.9,"v":24,"r":51.5,"m":53.5,"e200":49.3},
{"d":"2026-07-13","o":67.3,"h":68.0,"l":62.4,"c":63.3,"v":29,"r":44.8},
{"d":"2026-07-14","o":63.3,"h":66.2,"l":62.7,"c":65.5,"v":28,"r":48.8,"m":52.9,"e20":67.1,"e50":63.2},
{"d":"2026-07-15","o":65.5,"h":68.7,"l":64.9,"c":66.8,"v":37,"r":51.0},
{"d":"2026-07-16","o":66.9,"h":67.3,"l":60.0,"c":60.8,"v":40,"r":41.1,"m":52.1,"e20":65.95,"e50":63.3},
{"d":"2026-07-17","o":60.8,"h":61.3,"l":57.7,"c":59.6,"v":18,"r":39.8,"e200":49.9},
{"d":"2026-07-18","o":59.7,"h":61.0,"l":58.3,"c":60.4,"v":13,"r":40.6,"m":49.3,"e20":65.1,"e50":63.1},
{"d":"2026-07-19","o":60.2,"h":61.7,"l":59.6,"c":61.2,"v":20,"r":42.9},
{"d":"2026-07-20","o":61.2,"h":63.6,"l":60.6,"c":62.8,"v":21,"r":45.4,"m":46.7},
{"d":"2026-07-21","o":62.5,"h":63.0,"l":59.8,"c":60.8,"v":39,"r":42.4,"e20":63.8,"e50":62.7,"e200":50.4},
{"d":"2026-07-22","o":60.9,"h":61.5,"l":58.4,"c":59.2,"v":25,"r":39.8,"m":44.8},
{"d":"2026-07-23","o":59.3,"h":59.8,"l":56.5,"c":57.3,"v":23,"r":37.3},
{"d":"2026-07-24","o":58.0,"h":58.6,"l":56.3,"c":57.3,"v":11,"r":37.7,"m":42.9,"e20":62.7,"e50":62.3},
{"d":"2026-07-25","o":57.3,"h":58.8,"l":56.7,"c":58.1,"v":11,"r":39.4,"e200":50.9},
{"d":"2026-07-26","o":58.0,"h":60.9,"l":57.3,"c":59.6,"v":24,"r":43.3,"e20":62.1,"e50":61.9},
{"d":"2026-07-27","o":59.6,"h":60.1,"l":55.6,"c":56.0,"v":23,"r":36.9,"m":41.1},
{"d":"2026-07-28","o":56.0,"h":56.6,"l":54.5,"c":55.1,"v":22,"r":35.7,"e20":60.8,"e50":61.2},
{"d":"2026-07-29","o":55.3,"h":55.9,"l":53.3,"c":53.9,"v":20,"r":33.9,"m":39.4,"e200":51.1},
{"d":"2026-07-30","o":53.9,"h":56.7,"l":53.3,"c":55.3,"v":28,"r":38.9,"e20":59.2,"e50":60.75},
{"d":"2026-07-31","o":56.0,"h":56.4,"l":52.0,"c":52.5,"v":16,"r":34.2,"m":38.9},
{"d":"2026-08-01","o":52.5,"h":53.0,"l":51.8,"c":52.2,"v":18,"r":33.6,"e20":58.0,"e50":60.2},
{"d":"2026-08-02","o":52.1,"h":53.1,"l":51.5,"c":52.5,"v":22,"r":34.9,"m":38.0},
{"d":"2026-08-03","o":52.5,"h":54.7,"l":52.1,"c":53.9,"v":18,"r":39.4,"m":37.5,"e20":57.3,"e200":51.2},
{"d":"2026-08-04","o":53.9,"h":55.6,"l":53.4,"c":55.0,"v":26,"r":41.7,"e50":59.8},
{"d":"2026-08-05","o":55.0,"h":57.4,"l":54.6,"c":56.9,"v":26,"r":46.2,"m":38.1},
{"d":"2026-08-06","o":57.1,"h":57.8,"l":55.7,"c":56.3,"v":24,"r":44.8,"e20":57.0,"e50":59.4},
{"d":"2026-08-07","o":56.3,"h":56.8,"l":53.6,"c":54.1,"v":27,"r":40.6,"m":38.7,"e200":51.4},
{"d":"2026-08-08","o":54.1,"h":55.8,"l":53.6,"c":55.1,"v":11,"r":43.3,"e20":56.6,"e50":59.0},
{"d":"2026-08-09","o":55.1,"h":55.5,"l":53.4,"c":53.9,"v":11,"r":41.1,"m":39.1},
{"d":"2026-08-10","o":55.1,"h":55.6,"l":53.4,"c":53.8,"v":20,"r":43.8,"e20":56.1,"e50":58.7},
{"d":"2026-08-11","o":53.9,"h":55.7,"l":53.4,"c":55.1,"v":15,"r":43.3,"m":39.8,"e200":51.5},
{"d":"2026-08-12","o":54.4,"h":56.6,"l":54.0,"c":55.9,"v":17,"r":47.2,"e20":56.0,"e50":58.5},
{"d":"2026-08-13","o":55.9,"h":58.1,"l":55.4,"c":57.3,"v":19,"r":50.6,"m":41.5},
{"d":"2026-08-14","o":57.4,"h":58.0,"l":55.2,"c":56.6,"v":15,"r":48.5,"e20":56.2,"e50":58.35},
{"d":"2026-08-15","o":57.0,"h":57.6,"l":55.6,"c":56.3,"v":9,"r":49.5,"m":43.3},
{"d":"2026-08-16","o":56.6,"h":57.9,"l":56.1,"c":57.1,"v":10,"r":50.2,"e20":56.5,"e50":58.3,"e200":51.8},
{"d":"2026-08-17","o":57.1,"h":60.0,"l":56.6,"c":59.4,"v":20,"r":56.2,"m":46.2},
{"d":"2026-08-18","o":59.4,"h":60.5,"l":57.8,"c":58.4,"v":21,"r":53.2,"e20":57.1,"e50":58.4},
{"d":"2026-08-19","o":58.4,"h":70.6,"l":58.0,"c":69.8,"v":77,"r":71.3,"m":49.9,"e200":51.9},
{"d":"2026-08-20","o":69.787,"h":72.598,"l":68.468,"c":72.117,"v":22,"r":74.56,"m":51.86,"e20":59.415,"e50":59.245,"e200":51.938}
]},
"vconcat":[
{"width":2707,"height":194,
"resolve":{"axis":{"x":"independent","y":"independent"}},
"layer":[
{"data":{"name":"months"},"mark":{"type":"rule","color":"#e8e4e2","strokeWidth":2},"encoding":{"x":{"field":"d","type":"temporal","scale":{"type":"utc","domain":[{"year":2025,"month":7,"date":16,"hours":14,"utc":true},{"year":2026,"month":12,"date":7,"hours":7,"utc":true}],"nice":false},"axis":null}}},
{"data":{"values":[{"g":40},{"g":80}]},"mark":{"type":"rule","color":"#e8e4e2","strokeWidth":2},"encoding":{"x":{"datum":{"year":2025,"month":7,"date":16,"hours":14,"utc":true},"type":"temporal","scale":{"type":"utc","domain":[{"year":2025,"month":7,"date":16,"hours":14,"utc":true},{"year":2026,"month":12,"date":7,"hours":7,"utc":true}],"nice":false},"axis":null},"x2":{"datum":{"year":2026,"month":11,"date":6,"hours":22,"utc":true}},"y":{"field":"g","type":"quantitative","scale":{"type":"log","domain":[23.76,82.86],"nice":false},"axis":null}}},
{"data":{"values":[{}]},"mark":{"type":"rect","color":"#7e57c2","opacity":0.1},"encoding":{"x":{"datum":{"year":2025,"month":7,"date":16,"hours":14,"utc":true},"type":"temporal","scale":{"type":"utc","domain":[{"year":2025,"month":7,"date":16,"hours":14,"utc":true},{"year":2026,"month":12,"date":7,"hours":7,"utc":true}],"nice":false},"axis":null},"x2":{"datum":{"year":2026,"month":11,"date":6,"hours":22,"utc":true}},"y":{"datum":30,"type":"quantitative","scale":{"type":"log","domain":[23.76,82.86],"nice":false},"axis":null},"y2":{"datum":70}}},
{"data":{"values":[{"g":30},{"g":70}]},"mark":{"type":"rule","color":"#787b86","strokeWidth":2,"strokeDash":[10,8]},"encoding":{"x":{"datum":{"year":2025,"month":7,"date":16,"hours":14,"utc":true},"type":"temporal","scale":{"type":"utc","domain":[{"year":2025,"month":7,"date":16,"hours":14,"utc":true},{"year":2026,"month":12,"date":7,"hours":7,"utc":true}],"nice":false},"axis":null},"x2":{"datum":{"year":2026,"month":11,"date":6,"hours":22,"utc":true}},"y":{"field":"g","type":"quantitative","scale":{"type":"log","domain":[23.76,82.86],"nice":false},"axis":null}}},
{"data":{"values":[{"g":50}]},"mark":{"type":"rule","color":"#a5a5ad","strokeWidth":2,"strokeDash":[10,8]},"encoding":{"x":{"datum":{"year":2025,"month":7,"date":16,"hours":14,"utc":true},"type":"temporal","scale":{"type":"utc","domain":[{"year":2025,"month":7,"date":16,"hours":14,"utc":true},{"year":2026,"month":12,"date":7,"hours":7,"utc":true}],"nice":false},"axis":null},"x2":{"datum":{"year":2026,"month":11,"date":6,"hours":22,"utc":true}},"y":{"field":"g","type":"quantitative","scale":{"type":"log","domain":[23.76,82.86],"nice":false},"axis":null}}},
{"data":{"name":"k"},"transform":[{"filter":"isValid(datum.r)"}],"mark":{"type":"line","color":"#7e57c2","strokeWidth":2.2},"encoding":{"x":{"field":"d","type":"temporal","scale":{"type":"utc","domain":[{"year":2025,"month":7,"date":16,"hours":14,"utc":true},{"year":2026,"month":12,"date":7,"hours":7,"utc":true}],"nice":false},"axis":null},"y":{"field":"r","type":"quantitative","scale":{"type":"log","domain":[23.76,82.86],"nice":false},"axis":{"orient":"right","offset":-160,"values":[40],"format":".2f","title":null,"grid":false,"ticks":false,"tickSize":0,"domain":true,"domainColor":"#474747","domainWidth":2,"labelColor":"#555555","labelFontSize":25,"labelFont":"Inter","labelPadding":19,"labelAlign":"left","labelBaseline":"middle"}}}},
{"data":{"name":"k"},"transform":[{"filter":"isValid(datum.m)"}],"mark":{"type":"line","color":"#f5d033","strokeWidth":2.4},"encoding":{"x":{"field":"d","type":"temporal","scale":{"type":"utc","domain":[{"year":2025,"month":7,"date":16,"hours":14,"utc":true},{"year":2026,"month":12,"date":7,"hours":7,"utc":true}],"nice":false},"axis":null},"y":{"field":"m","type":"quantitative","scale":{"type":"log","domain":[23.76,82.86],"nice":false},"axis":null}}},
{"data":{"values":[{}]},"mark":{"type":"text","align":"left","baseline":"middle","fontSize":26,"color":"#d1d4dc","text":"bitcoinwallah created with TradingView.com, Aug 20, 2026 04:12 UTC-4"},"encoding":{"x":{"datum":{"year":2025,"month":7,"date":16,"hours":14,"utc":true},"type":"temporal","scale":{"type":"utc","domain":[{"year":2025,"month":7,"date":16,"hours":14,"utc":true},{"year":2026,"month":12,"date":7,"hours":7,"utc":true}],"nice":false},"axis":null},"y":{"datum":96.1,"type":"quantitative","scale":{"type":"log","domain":[23.76,82.86],"nice":false},"axis":null}}},
{"data":{"values":[{}]},"mark":{"type":"text","align":"left","baseline":"middle","fontSize":26,"color":"#555555","text":"RSI (14, close)"},"encoding":{"x":{"datum":{"year":2025,"month":7,"date":20,"hours":5,"utc":true},"type":"temporal","scale":{"type":"utc","domain":[{"year":2025,"month":7,"date":16,"hours":14,"utc":true},{"year":2026,"month":12,"date":7,"hours":7,"utc":true}],"nice":false},"axis":null},"y":{"datum":65.3,"type":"quantitative","scale":{"type":"log","domain":[23.76,82.86],"nice":false},"axis":null}}},
{"data":{"values":[{}]},"mark":{"type":"text","align":"left","baseline":"middle","fontSize":26,"color":"#7e57c2","text":"74.56 /"},"encoding":{"x":{"datum":{"year":2025,"month":8,"date":25,"hours":10,"utc":true},"type":"temporal","scale":{"type":"utc","domain":[{"year":2025,"month":7,"date":16,"hours":14,"utc":true},{"year":2026,"month":12,"date":7,"hours":7,"utc":true}],"nice":false},"axis":null},"y":{"datum":65.3,"type":"quantitative","scale":{"type":"log","domain":[23.76,82.86],"nice":false},"axis":null}}},
{"data":{"values":[{}]},"mark":{"type":"text","align":"left","baseline":"middle","fontSize":26,"color":"#f5d033","text":"51.86"},"encoding":{"x":{"datum":{"year":2025,"month":9,"date":10,"hours":19,"utc":true},"type":"temporal","scale":{"type":"utc","domain":[{"year":2025,"month":7,"date":16,"hours":14,"utc":true},{"year":2026,"month":12,"date":7,"hours":7,"utc":true}],"nice":false},"axis":null},"y":{"datum":65.3,"type":"quantitative","scale":{"type":"log","domain":[23.76,82.86],"nice":false},"axis":null}}}
]},
{"width":2707,"height":1164,
"resolve":{"scale":{"y":"independent"},"axis":{"x":"independent","y":"independent"}},
"layer":[
{"resolve":{"axis":{"x":"independent","y":"independent"}},"layer":[
{"data":{"name":"months"},"mark":{"type":"rule","color":"#e8e4e2","strokeWidth":2},"encoding":{"x":{"field":"d","type":"temporal","scale":{"type":"utc","domain":[{"year":2025,"month":7,"date":16,"hours":14,"utc":true},{"year":2026,"month":12,"date":7,"hours":7,"utc":true}],"nice":false},"axis":null}}},
{"data":{"name":"levels"},"mark":{"type":"rule","color":"#e8e4e2","strokeWidth":2},"encoding":{"x":{"datum":{"year":2025,"month":7,"date":16,"hours":14,"utc":true},"type":"temporal","scale":{"type":"utc","domain":[{"year":2025,"month":7,"date":16,"hours":14,"utc":true},{"year":2026,"month":12,"date":7,"hours":7,"utc":true}],"nice":false},"axis":null},"x2":{"datum":{"year":2026,"month":11,"date":6,"hours":22,"utc":true}},"y":{"field":"g","type":"quantitative","scale":{"type":"log","domain":[16.9,121.7],"nice":false},"axis":null}}}
]},
{"data":{"name":"k"},"mark":{"type":"bar","size":3},"encoding":{"x":{"field":"d","type":"temporal","scale":{"type":"utc","domain":[{"year":2025,"month":7,"date":16,"hours":14,"utc":true},{"year":2026,"month":12,"date":7,"hours":7,"utc":true}],"nice":false},"axis":null},"y":{"field":"v","type":"quantitative","scale":{"domain":[0,662],"nice":false},"axis":null},"color":{"condition":{"test":"datum.c >= datum.o","value":"#8cc3b5"},"value":"#f09990"}}},
{"resolve":{"axis":{"x":"independent","y":"independent"}},"layer":[
{"data":{"name":"k"},"mark":{"type":"rule","color":"#7b7b7b","strokeWidth":1.3},"encoding":{"x":{"field":"d","type":"temporal","scale":{"type":"utc","domain":[{"year":2025,"month":7,"date":16,"hours":14,"utc":true},{"year":2026,"month":12,"date":7,"hours":7,"utc":true}],"nice":false},"axis":null},"y":{"field":"l","type":"quantitative","scale":{"type":"log","domain":[16.9,121.7],"nice":false},"axis":null},"y2":{"field":"h"}}},
{"data":{"name":"k"},"mark":{"type":"bar","size":4},"encoding":{"x":{"field":"d","type":"temporal","scale":{"type":"utc","domain":[{"year":2025,"month":7,"date":16,"hours":14,"utc":true},{"year":2026,"month":12,"date":7,"hours":7,"utc":true}],"nice":false},"axis":null},"y":{"field":"o","type":"quantitative","scale":{"type":"log","domain":[16.9,121.7],"nice":false},"axis":{"orient":"right","offset":-160,"values":[18,20,22.5,25.5,28.5,32.5,36.5,42.5,48.5,54.5,62,78,90,100],"format":".3f","title":null,"grid":false,"ticks":false,"tickSize":0,"domain":true,"domainColor":"#474747","domainWidth":2,"labelColor":"#555555","labelFontSize":25,"labelFont":"Inter","labelPadding":19,"labelAlign":"left","labelBaseline":"middle","labelOverlap":false,"labelBound":false}},"y2":{"field":"c"},"color":{"condition":{"test":"datum.c >= datum.o","value":"#1f5b3d"},"value":"#5c1a15"}}},
{"data":{"name":"k"},"transform":[{"filter":"isValid(datum.e200)"}],"mark":{"type":"line","color":"#2962ff","strokeWidth":2.5},"encoding":{"x":{"field":"d","type":"temporal","scale":{"type":"utc","domain":[{"year":2025,"month":7,"date":16,"hours":14,"utc":true},{"year":2026,"month":12,"date":7,"hours":7,"utc":true}],"nice":false},"axis":null},"y":{"field":"e200","type":"quantitative","scale":{"type":"log","domain":[16.9,121.7],"nice":false},"axis":null}}},
{"data":{"name":"k"},"transform":[{"filter":"isValid(datum.e50)"}],"mark":{"type":"line","color":"#f23645","strokeWidth":2.5},"encoding":{"x":{"field":"d","type":"temporal","scale":{"type":"utc","domain":[{"year":2025,"month":7,"date":16,"hours":14,"utc":true},{"year":2026,"month":12,"date":7,"hours":7,"utc":true}],"nice":false},"axis":null},"y":{"field":"e50","type":"quantitative","scale":{"type":"log","domain":[16.9,121.7],"nice":false},"axis":null}}},
{"data":{"name":"k"},"transform":[{"filter":"isValid(datum.e20)"}],"mark":{"type":"line","color":"#0c6b4f","strokeWidth":2.5},"encoding":{"x":{"field":"d","type":"temporal","scale":{"type":"utc","domain":[{"year":2025,"month":7,"date":16,"hours":14,"utc":true},{"year":2026,"month":12,"date":7,"hours":7,"utc":true}],"nice":false},"axis":null},"y":{"field":"e20","type":"quantitative","scale":{"type":"log","domain":[16.9,121.7],"nice":false},"axis":null}}},
{"data":{"values":[{"t1":"2026-05-27T16:00:00Z","p1":75.83,"t2":"2026-08-29T03:00:00Z","p2":65.19},{"t1":"2026-05-19T18:00:00Z","p1":57.7,"t2":"2026-09-02T02:00:00Z","p2":49.18},{"t1":"2026-06-03T20:00:00Z","p1":75.0,"t2":"2026-06-03T20:00:00Z","p2":38.6},{"t1":"2026-05-31T02:00:00Z","p1":72.0,"t2":"2026-06-03T20:00:00Z","p2":75.0},{"t1":"2026-06-03T20:00:00Z","p1":75.0,"t2":"2026-06-08T04:00:00Z","p2":71.76}],"format":{"parse":{"t1":"date","t2":"date"}}},"mark":{"type":"rule","color":"#000000","strokeWidth":4,"strokeCap":"round"},"encoding":{"x":{"field":"t1","type":"temporal","scale":{"type":"utc","domain":[{"year":2025,"month":7,"date":16,"hours":14,"utc":true},{"year":2026,"month":12,"date":7,"hours":7,"utc":true}],"nice":false},"axis":null},"x2":{"field":"t2"},"y":{"field":"p1","type":"quantitative","scale":{"type":"log","domain":[16.9,121.7],"nice":false},"axis":null},"y2":{"field":"p2"}}},
{"data":{"values":[{"t1":"2026-08-16T22:00:00Z","p1":51.84,"t2":"2026-08-16T22:00:00Z","p2":96.7},{"t1":"2026-08-14T10:00:00Z","p1":94.8,"t2":"2026-08-16T22:00:00Z","p2":97.0},{"t1":"2026-08-16T22:00:00Z","p1":97.0,"t2":"2026-08-20T17:00:00Z","p2":93.5}],"format":{"parse":{"t1":"date","t2":"date"}}},"mark":{"type":"rule","color":"#000000","strokeWidth":4,"strokeDash":[4,12]},"encoding":{"x":{"field":"t1","type":"temporal","scale":{"type":"utc","domain":[{"year":2025,"month":7,"date":16,"hours":14,"utc":true},{"year":2026,"month":12,"date":7,"hours":7,"utc":true}],"nice":false},"axis":null},"x2":{"field":"t2"},"y":{"field":"p1","type":"quantitative","scale":{"type":"log","domain":[16.9,121.7],"nice":false},"axis":null},"y2":{"field":"p2"}}},
{"data":{"values":[{}]},"mark":{"type":"rule","color":"#000000","strokeWidth":4,"strokeDash":[20,24]},"encoding":{"x":{"datum":{"year":2025,"month":7,"date":16,"hours":14,"utc":true},"type":"temporal","scale":{"type":"utc","domain":[{"year":2025,"month":7,"date":16,"hours":14,"utc":true},{"year":2026,"month":12,"date":7,"hours":7,"utc":true}],"nice":false},"axis":null},"x2":{"datum":{"year":2026,"month":11,"date":3,"hours":22,"utc":true}},"y":{"datum":97.232,"type":"quantitative","scale":{"type":"log","domain":[16.9,121.7],"nice":false},"axis":null}}},
{"data":{"values":[{}]},"mark":{"type":"rule","color":"#6aa784","strokeWidth":2,"strokeDash":[2,7]},"encoding":{"x":{"datum":{"year":2025,"month":7,"date":16,"hours":14,"utc":true},"type":"temporal","scale":{"type":"utc","domain":[{"year":2025,"month":7,"date":16,"hours":14,"utc":true},{"year":2026,"month":12,"date":7,"hours":7,"utc":true}],"nice":false},"axis":null},"x2":{"datum":{"year":2026,"month":10,"date":6,"hours":12,"utc":true}},"y":{"datum":72.117,"type":"quantitative","scale":{"type":"log","domain":[16.9,121.7],"nice":false},"axis":null}}},
{"data":{"values":[{}]},"mark":{"type":"rect","color":"#ffffff","cornerRadius":8},"encoding":{"x":{"datum":{"year":2026,"month":11,"date":8,"hours":17,"utc":true},"type":"temporal","scale":{"type":"utc","domain":[{"year":2025,"month":7,"date":16,"hours":14,"utc":true},{"year":2026,"month":12,"date":7,"hours":7,"utc":true}],"nice":false},"axis":null},"x2":{"datum":{"year":2026,"month":12,"date":5,"hours":22,"utc":true}},"y":{"datum":119.46,"type":"quantitative","scale":{"type":"log","domain":[16.9,121.7],"nice":false},"axis":null},"y2":{"datum":108.81}}},
{"data":{"values":[{}]},"mark":{"type":"rect","color":"#000000","cornerRadius":3},"encoding":{"x":{"datum":{"year":2026,"month":11,"date":7,"hours":10,"utc":true},"type":"temporal","scale":{"type":"utc","domain":[{"year":2025,"month":7,"date":16,"hours":14,"utc":true},{"year":2026,"month":12,"date":7,"hours":7,"utc":true}],"nice":false},"axis":null},"x2":{"datum":{"year":2026,"month":11,"date":28,"hours":14,"utc":true}},"y":{"datum":100.13,"type":"quantitative","scale":{"type":"log","domain":[16.9,121.7],"nice":false},"axis":null},"y2":{"datum":94.68}}},
{"data":{"values":[{}]},"mark":{"type":"rect","color":"#6aa784","cornerRadius":3},"encoding":{"x":{"datum":{"year":2026,"month":10,"date":6,"hours":12,"utc":true},"type":"temporal","scale":{"type":"utc","domain":[{"year":2025,"month":7,"date":16,"hours":14,"utc":true},{"year":2026,"month":12,"date":7,"hours":7,"utc":true}],"nice":false},"axis":null},"x2":{"datum":{"year":2026,"month":11,"date":7,"hours":7,"utc":true}},"y":{"datum":74.29,"type":"quantitative","scale":{"type":"log","domain":[16.9,121.7],"nice":false},"axis":null},"y2":{"datum":70.25}}},
{"data":{"values":[{}]},"mark":{"type":"rect","color":"#6aa784","cornerRadius":3},"encoding":{"x":{"datum":{"year":2026,"month":11,"date":7,"hours":10,"utc":true},"type":"temporal","scale":{"type":"utc","domain":[{"year":2025,"month":7,"date":16,"hours":14,"utc":true},{"year":2026,"month":12,"date":7,"hours":7,"utc":true}],"nice":false},"axis":null},"x2":{"datum":{"year":2026,"month":12,"date":2,"hours":19,"utc":true}},"y":{"datum":74.29,"type":"quantitative","scale":{"type":"log","domain":[16.9,121.7],"nice":false},"axis":null},"y2":{"datum":66.87}}},
{"data":{"values":[{}]},"mark":{"type":"text","align":"left","baseline":"middle","fontSize":25,"color":"#131722","text":"USDT"},"encoding":{"x":{"datum":{"year":2026,"month":11,"date":12,"hours":17,"utc":true},"type":"temporal","scale":{"type":"utc","domain":[{"year":2025,"month":7,"date":16,"hours":14,"utc":true},{"year":2026,"month":12,"date":7,"hours":7,"utc":true}],"nice":false},"axis":null},"y":{"datum":114.1,"type":"quantitative","scale":{"type":"log","domain":[16.9,121.7],"nice":false},"axis":null}}},
{"data":{"values":[{}]},"mark":{"type":"text","align":"left","baseline":"middle","fontSize":25,"color":"#ffffff","text":"97.232"},"encoding":{"x":{"datum":{"year":2026,"month":11,"date":10,"hours":14,"utc":true},"type":"temporal","scale":{"type":"utc","domain":[{"year":2025,"month":7,"date":16,"hours":14,"utc":true},{"year":2026,"month":12,"date":7,"hours":7,"utc":true}],"nice":false},"axis":null},"y":{"datum":97.3,"type":"quantitative","scale":{"type":"log","domain":[16.9,121.7],"nice":false},"axis":null}}},
{"data":{"values":[{}]},"mark":{"type":"text","align":"left","baseline":"middle","fontSize":25,"color":"#ffffff","text":"HYPEUSDT.P"},"encoding":{"x":{"datum":{"year":2026,"month":10,"date":8,"hours":5,"utc":true},"type":"temporal","scale":{"type":"utc","domain":[{"year":2025,"month":7,"date":16,"hours":14,"utc":true},{"year":2026,"month":12,"date":7,"hours":7,"utc":true}],"nice":false},"axis":null},"y":{"datum":72.25,"type":"quantitative","scale":{"type":"log","domain":[16.9,121.7],"nice":false},"axis":null}}},
{"data":{"values":[{}]},"mark":{"type":"text","align":"left","baseline":"middle","fontSize":25,"color":"#ffffff","text":"72.117"},"encoding":{"x":{"datum":{"year":2026,"month":11,"date":10,"hours":14,"utc":true},"type":"temporal","scale":{"type":"utc","domain":[{"year":2025,"month":7,"date":16,"hours":14,"utc":true},{"year":2026,"month":12,"date":7,"hours":7,"utc":true}],"nice":false},"axis":null},"y":{"datum":72.18,"type":"quantitative","scale":{"type":"log","domain":[16.9,121.7],"nice":false},"axis":null}}},
{"data":{"values":[{}]},"mark":{"type":"text","align":"left","baseline":"middle","fontSize":25,"color":"#e4f0e8","text":"15:47:44"},"encoding":{"x":{"datum":{"year":2026,"month":11,"date":10,"hours":14,"utc":true},"type":"temporal","scale":{"type":"utc","domain":[{"year":2025,"month":7,"date":16,"hours":14,"utc":true},{"year":2026,"month":12,"date":7,"hours":7,"utc":true}],"nice":false},"axis":null},"y":{"datum":68.83,"type":"quantitative","scale":{"type":"log","domain":[16.9,121.7],"nice":false},"axis":null}}},
{"data":{"values":[{}]},"mark":{"type":"text","align":"left","baseline":"middle","fontSize":26,"color":"#555555","text":"HYPE / TetherUS PERPETUAL CONTRACT · 1D · Binance"},"encoding":{"x":{"datum":{"year":2025,"month":7,"date":20,"hours":5,"utc":true},"type":"temporal","scale":{"type":"utc","domain":[{"year":2025,"month":7,"date":16,"hours":14,"utc":true},{"year":2026,"month":12,"date":7,"hours":7,"utc":true}],"nice":false},"axis":null},"y":{"datum":114.36,"type":"quantitative","scale":{"type":"log","domain":[16.9,121.7],"nice":false},"axis":null}}},
{"data":{"values":[{}]},"mark":{"type":"text","align":"left","baseline":"middle","fontSize":26,"color":"#225e3f","text":"O69.787   H72.598   L68.468   C72.117   +2.330 (+3.34%)"},"encoding":{"x":{"datum":{"year":2025,"month":11,"date":29,"hours":12,"utc":true},"type":"temporal","scale":{"type":"utc","domain":[{"year":2025,"month":7,"date":16,"hours":14,"utc":true},{"year":2026,"month":12,"date":7,"hours":7,"utc":true}],"nice":false},"axis":null},"y":{"datum":114.36,"type":"quantitative","scale":{"type":"log","domain":[16.9,121.7],"nice":false},"axis":null}}},
{"data":{"values":[{}]},"mark":{"type":"text","align":"left","baseline":"middle","fontSize":26,"color":"#555555","text":"EMA (50, close)"},"encoding":{"x":{"datum":{"year":2025,"month":7,"date":20,"hours":5,"utc":true},"type":"temporal","scale":{"type":"utc","domain":[{"year":2025,"month":7,"date":16,"hours":14,"utc":true},{"year":2026,"month":12,"date":7,"hours":7,"utc":true}],"nice":false},"axis":null},"y":{"datum":107.22,"type":"quantitative","scale":{"type":"log","domain":[16.9,121.7],"nice":false},"axis":null}}},
{"data":{"values":[{}]},"mark":{"type":"text","align":"left","baseline":"middle","fontSize":26,"color":"#f23645","text":"59.245"},"encoding":{"x":{"datum":{"year":2025,"month":8,"date":29,"hours":5,"utc":true},"type":"temporal","scale":{"type":"utc","domain":[{"year":2025,"month":7,"date":16,"hours":14,"utc":true},{"year":2026,"month":12,"date":7,"hours":7,"utc":true}],"nice":false},"axis":null},"y":{"datum":107.22,"type":"quantitative","scale":{"type":"log","domain":[16.9,121.7],"nice":false},"axis":null}}},
{"data":{"values":[{}]},"mark":{"type":"text","align":"left","baseline":"middle","fontSize":26,"color":"#555555","text":"EMA (200, close)"},"encoding":{"x":{"datum":{"year":2025,"month":7,"date":20,"hours":5,"utc":true},"type":"temporal","scale":{"type":"utc","domain":[{"year":2025,"month":7,"date":16,"hours":14,"utc":true},{"year":2026,"month":12,"date":7,"hours":7,"utc":true}],"nice":false},"axis":null},"y":{"datum":100.77,"type":"quantitative","scale":{"type":"log","domain":[16.9,121.7],"nice":false},"axis":null}}},
{"data":{"values":[{}]},"mark":{"type":"text","align":"left","baseline":"middle","fontSize":26,"color":"#2962ff","text":"51.938"},"encoding":{"x":{"datum":{"year":2025,"month":9,"date":1,"hours":3,"utc":true},"type":"temporal","scale":{"type":"utc","domain":[{"year":2025,"month":7,"date":16,"hours":14,"utc":true},{"year":2026,"month":12,"date":7,"hours":7,"utc":true}],"nice":false},"axis":null},"y":{"datum":100.77,"type":"quantitative","scale":{"type":"log","domain":[16.9,121.7],"nice":false},"axis":null}}},
{"data":{"values":[{}]},"mark":{"type":"text","align":"left","baseline":"middle","fontSize":26,"color":"#555555","text":"Vol · HYPE"},"encoding":{"x":{"datum":{"year":2025,"month":7,"date":20,"hours":5,"utc":true},"type":"temporal","scale":{"type":"utc","domain":[{"year":2025,"month":7,"date":16,"hours":14,"utc":true},{"year":2026,"month":12,"date":7,"hours":7,"utc":true}],"nice":false},"axis":null},"y":{"datum":94.68,"type":"quantitative","scale":{"type":"log","domain":[16.9,121.7],"nice":false},"axis":null}}},
{"data":{"values":[{}]},"mark":{"type":"text","align":"left","baseline":"middle","fontSize":26,"color":"#26a69a","text":"7.11M"},"encoding":{"x":{"datum":{"year":2025,"month":8,"date":16,"hours":10,"utc":true},"type":"temporal","scale":{"type":"utc","domain":[{"year":2025,"month":7,"date":16,"hours":14,"utc":true},{"year":2026,"month":12,"date":7,"hours":7,"utc":true}],"nice":false},"axis":null},"y":{"datum":94.68,"type":"quantitative","scale":{"type":"log","domain":[16.9,121.7],"nice":false},"axis":null}}},
{"data":{"values":[{}]},"mark":{"type":"text","align":"left","baseline":"middle","fontSize":26,"color":"#555555","text":"EMA (20, close)"},"encoding":{"x":{"datum":{"year":2025,"month":7,"date":20,"hours":5,"utc":true},"type":"temporal","scale":{"type":"utc","domain":[{"year":2025,"month":7,"date":16,"hours":14,"utc":true},{"year":2026,"month":12,"date":7,"hours":7,"utc":true}],"nice":false},"axis":null},"y":{"datum":88.96,"type":"quantitative","scale":{"type":"log","domain":[16.9,121.7],"nice":false},"axis":null}}},
{"data":{"values":[{}]},"mark":{"type":"text","align":"left","baseline":"middle","fontSize":26,"color":"#0c6b4f","text":"59.415"},"encoding":{"x":{"datum":{"year":2025,"month":8,"date":29,"hours":5,"utc":true},"type":"temporal","scale":{"type":"utc","domain":[{"year":2025,"month":7,"date":16,"hours":14,"utc":true},{"year":2026,"month":12,"date":7,"hours":7,"utc":true}],"nice":false},"axis":null},"y":{"datum":88.96,"type":"quantitative","scale":{"type":"log","domain":[16.9,121.7],"nice":false},"axis":null}}}
]}
]},
{"width":2707,"height":135,
"resolve":{"axis":{"x":"independent","y":"independent"}},
"layer":[
{"data":{"name":"months"},"mark":{"type":"rule","opacity":0},"encoding":{"x":{"field":"d","type":"temporal","scale":{"type":"utc","domain":[{"year":2025,"month":7,"date":16,"hours":14,"utc":true},{"year":2026,"month":12,"date":7,"hours":7,"utc":true}],"nice":false},"axis":{"orient":"bottom","offset":-60,"values":[{"year":2025,"month":8,"date":1,"utc":true},{"year":2025,"month":9,"date":1,"utc":true},{"year":2025,"month":10,"date":1,"utc":true},{"year":2025,"month":11,"date":1,"utc":true},{"year":2025,"month":12,"date":1,"utc":true},{"year":2026,"month":1,"date":1,"utc":true},{"year":2026,"month":2,"date":1,"utc":true},{"year":2026,"month":3,"date":1,"utc":true},{"year":2026,"month":4,"date":1,"utc":true},{"year":2026,"month":5,"date":1,"utc":true},{"year":2026,"month":6,"date":1,"utc":true},{"year":2026,"month":7,"date":1,"utc":true},{"year":2026,"month":8,"date":1,"utc":true},{"year":2026,"month":9,"date":1,"utc":true},{"year":2026,"month":10,"date":1,"utc":true},{"year":2026,"month":11,"date":1,"utc":true}],"labelExpr":"utcFormat(datum.value, '%m') == '01' ? utcFormat(datum.value, '%Y') : utcFormat(datum.value, '%b')","labelFontWeight":{"condition":{"test":"utcFormat(datum.value, '%m') == '01'","value":"bold"},"value":"normal"},"title":null,"grid":false,"ticks":false,"tickSize":0,"domain":true,"domainColor":"#555555","domainWidth":2,"labelColor":"#555555","labelFontSize":25,"labelFont":"Inter","labelPadding":30,"labelBaseline":"middle","labelOverlap":false,"labelFlush":false,"labelBound":false}}}},
{"data":{"values":[{}]},"mark":{"type":"rule","color":"#474747","strokeWidth":2},"encoding":{"x":{"datum":{"year":2026,"month":11,"date":7,"hours":7,"utc":true},"type":"temporal","scale":{"type":"utc","domain":[{"year":2025,"month":7,"date":16,"hours":14,"utc":true},{"year":2026,"month":12,"date":7,"hours":7,"utc":true}],"nice":false},"axis":null}}},
{"data":{"values":[{}]},"mark":{"type":"text","align":"left","baseline":"middle","fontSize":26,"color":"#555555","text":"Funding Rate"},"encoding":{"x":{"datum":{"year":2025,"month":7,"date":20,"hours":5,"utc":true},"type":"temporal","scale":{"type":"utc","domain":[{"year":2025,"month":7,"date":16,"hours":14,"utc":true},{"year":2026,"month":12,"date":7,"hours":7,"utc":true}],"nice":false},"axis":null},"y":{"datum":0.728,"type":"quantitative","scale":{"domain":[0,1],"nice":false},"axis":null}}},
{"data":{"values":[{}]},"mark":{"type":"text","align":"left","baseline":"middle","fontSize":26,"color":"#089981","text":"0.0054%"},"encoding":{"x":{"datum":{"year":2025,"month":8,"date":22,"hours":22,"utc":true},"type":"temporal","scale":{"type":"utc","domain":[{"year":2025,"month":7,"date":16,"hours":14,"utc":true},{"year":2026,"month":12,"date":7,"hours":7,"utc":true}],"nice":false},"axis":null},"y":{"datum":0.728,"type":"quantitative","scale":{"domain":[0,1],"nice":false},"axis":null}}},
{"data":{"values":[{}]},"mark":{"type":"text","align":"left","baseline":"middle","fontSize":54,"fontWeight":900,"color":"#d9d9d9","text":"17"},"encoding":{"x":{"datum":{"year":2025,"month":7,"date":17,"hours":16,"utc":true},"type":"temporal","scale":{"type":"utc","domain":[{"year":2025,"month":7,"date":16,"hours":14,"utc":true},{"year":2026,"month":12,"date":7,"hours":7,"utc":true}],"nice":false},"axis":null},"y":{"datum":-0.481,"type":"quantitative","scale":{"domain":[0,1],"nice":false},"axis":null}}},
{"data":{"values":[{}]},"mark":{"type":"text","align":"left","baseline":"middle","fontSize":44,"fontWeight":600,"color":"#d9d9d9","text":"TradingView"},"encoding":{"x":{"datum":{"year":2025,"month":8,"date":1,"hours":16,"utc":true},"type":"temporal","scale":{"type":"utc","domain":[{"year":2025,"month":7,"date":16,"hours":14,"utc":true},{"year":2026,"month":12,"date":7,"hours":7,"utc":true}],"nice":false},"axis":null},"y":{"datum":-0.481,"type":"quantitative","scale":{"domain":[0,1],"nice":false},"axis":null}}}
]}
]
}
